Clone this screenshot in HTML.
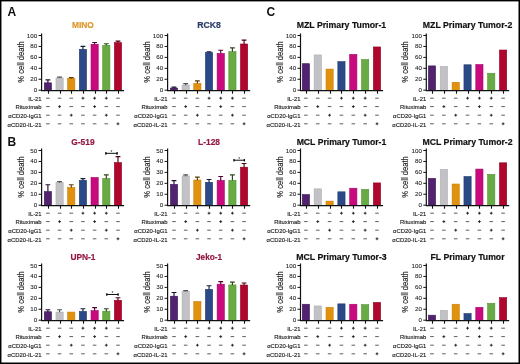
<!DOCTYPE html>
<html><head><meta charset="utf-8"><style>
html,body{margin:0;padding:0;background:#fff;}
body{width:520px;height:364px;overflow:hidden;}
svg{display:block;will-change:transform;font-family:"Liberation Sans", sans-serif;}
</style></head><body>
<svg width="520" height="364" viewBox="0 0 520 364">
<rect x="0" y="0" width="520" height="364" fill="#fff"/>
<text x="7.4" y="16.2" font-size="12" font-weight="bold" fill="#111">A</text>
<text x="7.5" y="146" font-size="12" font-weight="bold" fill="#111">B</text>
<text x="266.4" y="16.1" font-size="12" font-weight="bold" fill="#111">C</text>
<rect x="44.3" y="82.84" width="7.2" height="7.66" fill="#50226f" stroke="#3d1757" stroke-width="0.6"/>
<rect x="55.98" y="77.92" width="7.2" height="12.58" fill="#c2c2c6" stroke="#adadb2" stroke-width="0.6"/>
<rect x="67.66" y="78.47" width="7.2" height="12.03" fill="#e0920f" stroke="#cc8005" stroke-width="0.6"/>
<rect x="79.34" y="49.31" width="7.2" height="41.19" fill="#2b4987" stroke="#203a70" stroke-width="0.6"/>
<rect x="91.02" y="44.28" width="7.2" height="46.22" fill="#c80a7e" stroke="#a50466" stroke-width="0.6"/>
<rect x="102.7" y="45.32" width="7.2" height="45.18" fill="#68aa43" stroke="#559133" stroke-width="0.6"/>
<rect x="114.38" y="42.64" width="7.2" height="47.86" fill="#b0052c" stroke="#8c0322" stroke-width="0.6"/>
<path d="M47.9 83.04V79.81M45.5 79.81H50.3" stroke="#210e2e" stroke-width="1.15" fill="none"/>
<path d="M59.58 78.12V77.07M57.18 77.07H61.98" stroke="#515153" stroke-width="1.15" fill="none"/>
<path d="M71.26 78.67V77.62M68.86 77.62H73.66" stroke="#5e3d06" stroke-width="1.15" fill="none"/>
<path d="M82.94 49.51V46.33M80.54 46.33H85.34" stroke="#121e38" stroke-width="1.15" fill="none"/>
<path d="M94.62 44.48V42.45M92.22 42.45H97.02" stroke="#540434" stroke-width="1.15" fill="none"/>
<path d="M106.3 45.52V43.7M103.9 43.7H108.7" stroke="#2b471c" stroke-width="1.15" fill="none"/>
<path d="M117.98 42.84V41.08M115.58 41.08H120.38" stroke="#490212" stroke-width="1.15" fill="none"/>
<path d="M41.6 33.5V90.6H124.08" stroke="#111" stroke-width="1.2" fill="none"/>
<path d="M38.6 90.2H41.6" stroke="#111" stroke-width="1" fill="none"/>
<text x="37.2" y="89.7" font-size="6.2" text-anchor="end" dominant-baseline="central" fill="#222" stroke="#222" stroke-width="0.08">0</text>
<path d="M38.6 79.26H41.6" stroke="#111" stroke-width="1" fill="none"/>
<text x="37.2" y="78.76" font-size="6.2" text-anchor="end" dominant-baseline="central" fill="#222" stroke="#222" stroke-width="0.08">20</text>
<path d="M38.6 68.32H41.6" stroke="#111" stroke-width="1" fill="none"/>
<text x="37.2" y="67.82" font-size="6.2" text-anchor="end" dominant-baseline="central" fill="#222" stroke="#222" stroke-width="0.08">40</text>
<path d="M38.6 57.38H41.6" stroke="#111" stroke-width="1" fill="none"/>
<text x="37.2" y="56.88" font-size="6.2" text-anchor="end" dominant-baseline="central" fill="#222" stroke="#222" stroke-width="0.08">60</text>
<path d="M38.6 46.44H41.6" stroke="#111" stroke-width="1" fill="none"/>
<text x="37.2" y="45.94" font-size="6.2" text-anchor="end" dominant-baseline="central" fill="#222" stroke="#222" stroke-width="0.08">80</text>
<path d="M38.6 35.5H41.6" stroke="#111" stroke-width="1" fill="none"/>
<text x="37.2" y="35" font-size="6.2" text-anchor="end" dominant-baseline="central" fill="#222" stroke="#222" stroke-width="0.08">100</text>
<path d="M48.5 90.6V93.7" stroke="#111" stroke-width="1.1" fill="none"/>
<path d="M60.5 90.6V93.7" stroke="#111" stroke-width="1.1" fill="none"/>
<path d="M71.5 90.6V93.7" stroke="#111" stroke-width="1.1" fill="none"/>
<path d="M83.5 90.6V93.7" stroke="#111" stroke-width="1.1" fill="none"/>
<path d="M95.5 90.6V93.7" stroke="#111" stroke-width="1.1" fill="none"/>
<path d="M106.5 90.6V93.7" stroke="#111" stroke-width="1.1" fill="none"/>
<path d="M118.5 90.6V93.7" stroke="#111" stroke-width="1.1" fill="none"/>
<text transform="translate(23.6 61.9) rotate(-90)" font-size="9" text-anchor="middle" textLength="41.5" lengthAdjust="spacingAndGlyphs" fill="#222" stroke="#222" stroke-width="0.15">% cell death</text>
<text x="82.94" y="28.4" font-size="9.8" font-weight="bold" text-anchor="middle" textLength="21.9" lengthAdjust="spacingAndGlyphs" fill="#dc962a" stroke="#dc962a" stroke-width="0.2">MINO</text>
<text x="41.6" y="98.4" font-size="6.1" text-anchor="end" dominant-baseline="central" textLength="13.3" lengthAdjust="spacingAndGlyphs" fill="#222" stroke="#222" stroke-width="0.15">IL-21</text>
<path d="M46.1 98.2H49.7" stroke="#333" stroke-width="0.8" fill="none"/>
<path d="M57.78 98.2H61.38" stroke="#333" stroke-width="0.8" fill="none"/>
<path d="M69.46 98.2H73.06" stroke="#333" stroke-width="0.8" fill="none"/>
<path d="M81.54 98.2H84.34M82.94 96.8V99.6" stroke="#1a1a1a" stroke-width="0.9" fill="none"/>
<path d="M93.22 98.2H96.02M94.62 96.8V99.6" stroke="#1a1a1a" stroke-width="0.9" fill="none"/>
<path d="M104.9 98.2H107.7M106.3 96.8V99.6" stroke="#1a1a1a" stroke-width="0.9" fill="none"/>
<path d="M116.18 98.2H119.78" stroke="#333" stroke-width="0.8" fill="none"/>
<text x="41.6" y="106.8" font-size="6.1" text-anchor="end" dominant-baseline="central" textLength="26.2" lengthAdjust="spacingAndGlyphs" fill="#222" stroke="#222" stroke-width="0.15">Rituximab</text>
<path d="M46.1 106.6H49.7" stroke="#333" stroke-width="0.8" fill="none"/>
<path d="M58.18 106.6H60.98M59.58 105.2V108" stroke="#1a1a1a" stroke-width="0.9" fill="none"/>
<path d="M69.46 106.6H73.06" stroke="#333" stroke-width="0.8" fill="none"/>
<path d="M81.14 106.6H84.74" stroke="#333" stroke-width="0.8" fill="none"/>
<path d="M93.22 106.6H96.02M94.62 105.2V108" stroke="#1a1a1a" stroke-width="0.9" fill="none"/>
<path d="M104.5 106.6H108.1" stroke="#333" stroke-width="0.8" fill="none"/>
<path d="M116.18 106.6H119.78" stroke="#333" stroke-width="0.8" fill="none"/>
<text x="41.6" y="115.4" font-size="6.1" text-anchor="end" dominant-baseline="central" textLength="33.3" lengthAdjust="spacingAndGlyphs" fill="#222" stroke="#222" stroke-width="0.15">αCD20-IgG1</text>
<path d="M46.1 115.2H49.7" stroke="#333" stroke-width="0.8" fill="none"/>
<path d="M57.78 115.2H61.38" stroke="#333" stroke-width="0.8" fill="none"/>
<path d="M69.86 115.2H72.66M71.26 113.8V116.6" stroke="#1a1a1a" stroke-width="0.9" fill="none"/>
<path d="M81.14 115.2H84.74" stroke="#333" stroke-width="0.8" fill="none"/>
<path d="M92.82 115.2H96.42" stroke="#333" stroke-width="0.8" fill="none"/>
<path d="M104.9 115.2H107.7M106.3 113.8V116.6" stroke="#1a1a1a" stroke-width="0.9" fill="none"/>
<path d="M116.18 115.2H119.78" stroke="#333" stroke-width="0.8" fill="none"/>
<text x="41.6" y="124" font-size="6.1" text-anchor="end" dominant-baseline="central" textLength="34" lengthAdjust="spacingAndGlyphs" fill="#222" stroke="#222" stroke-width="0.15">αCD20-IL-21</text>
<path d="M46.1 123.8H49.7" stroke="#333" stroke-width="0.8" fill="none"/>
<path d="M57.78 123.8H61.38" stroke="#333" stroke-width="0.8" fill="none"/>
<path d="M69.46 123.8H73.06" stroke="#333" stroke-width="0.8" fill="none"/>
<path d="M81.14 123.8H84.74" stroke="#333" stroke-width="0.8" fill="none"/>
<path d="M92.82 123.8H96.42" stroke="#333" stroke-width="0.8" fill="none"/>
<path d="M104.5 123.8H108.1" stroke="#333" stroke-width="0.8" fill="none"/>
<path d="M116.58 123.8H119.38M117.98 122.4V125.2" stroke="#1a1a1a" stroke-width="0.9" fill="none"/>
<rect x="170.4" y="88.04" width="7.2" height="2.46" fill="#50226f" stroke="#3d1757" stroke-width="0.6"/>
<rect x="182.08" y="85.03" width="7.2" height="5.47" fill="#c2c2c6" stroke="#adadb2" stroke-width="0.6"/>
<rect x="193.76" y="83.39" width="7.2" height="7.11" fill="#e0920f" stroke="#cc8005" stroke-width="0.6"/>
<rect x="205.44" y="52.59" width="7.2" height="37.91" fill="#2b4987" stroke="#203a70" stroke-width="0.6"/>
<rect x="217.12" y="53.41" width="7.2" height="37.09" fill="#c80a7e" stroke="#a50466" stroke-width="0.6"/>
<rect x="228.8" y="51.66" width="7.2" height="38.84" fill="#68aa43" stroke="#559133" stroke-width="0.6"/>
<rect x="240.48" y="44" width="7.2" height="46.5" fill="#b0052c" stroke="#8c0322" stroke-width="0.6"/>
<path d="M174 88.24V87.19M171.6 87.19H176.4" stroke="#210e2e" stroke-width="1.15" fill="none"/>
<path d="M185.68 85.23V83.64M183.28 83.64H188.08" stroke="#515153" stroke-width="1.15" fill="none"/>
<path d="M197.36 83.59V80.9M194.96 80.9H199.76" stroke="#5e3d06" stroke-width="1.15" fill="none"/>
<path d="M209.04 52.79V51.91M206.64 51.91H211.44" stroke="#121e38" stroke-width="1.15" fill="none"/>
<path d="M220.72 53.61V50.27M218.32 50.27H223.12" stroke="#540434" stroke-width="1.15" fill="none"/>
<path d="M232.4 51.86V47.81M230 47.81H234.8" stroke="#2b471c" stroke-width="1.15" fill="none"/>
<path d="M244.08 44.2V40.15M241.68 40.15H246.48" stroke="#490212" stroke-width="1.15" fill="none"/>
<path d="M167.6 33.5V90.6H250.18" stroke="#111" stroke-width="1.2" fill="none"/>
<path d="M164.6 90.2H167.6" stroke="#111" stroke-width="1" fill="none"/>
<text x="163.2" y="89.7" font-size="6.2" text-anchor="end" dominant-baseline="central" fill="#222" stroke="#222" stroke-width="0.08">0</text>
<path d="M164.6 79.26H167.6" stroke="#111" stroke-width="1" fill="none"/>
<text x="163.2" y="78.76" font-size="6.2" text-anchor="end" dominant-baseline="central" fill="#222" stroke="#222" stroke-width="0.08">20</text>
<path d="M164.6 68.32H167.6" stroke="#111" stroke-width="1" fill="none"/>
<text x="163.2" y="67.82" font-size="6.2" text-anchor="end" dominant-baseline="central" fill="#222" stroke="#222" stroke-width="0.08">40</text>
<path d="M164.6 57.38H167.6" stroke="#111" stroke-width="1" fill="none"/>
<text x="163.2" y="56.88" font-size="6.2" text-anchor="end" dominant-baseline="central" fill="#222" stroke="#222" stroke-width="0.08">60</text>
<path d="M164.6 46.44H167.6" stroke="#111" stroke-width="1" fill="none"/>
<text x="163.2" y="45.94" font-size="6.2" text-anchor="end" dominant-baseline="central" fill="#222" stroke="#222" stroke-width="0.08">80</text>
<path d="M164.6 35.5H167.6" stroke="#111" stroke-width="1" fill="none"/>
<text x="163.2" y="35" font-size="6.2" text-anchor="end" dominant-baseline="central" fill="#222" stroke="#222" stroke-width="0.08">100</text>
<path d="M174.5 90.6V93.7" stroke="#111" stroke-width="1.1" fill="none"/>
<path d="M186.5 90.6V93.7" stroke="#111" stroke-width="1.1" fill="none"/>
<path d="M197.5 90.6V93.7" stroke="#111" stroke-width="1.1" fill="none"/>
<path d="M209.5 90.6V93.7" stroke="#111" stroke-width="1.1" fill="none"/>
<path d="M221.5 90.6V93.7" stroke="#111" stroke-width="1.1" fill="none"/>
<path d="M232.5 90.6V93.7" stroke="#111" stroke-width="1.1" fill="none"/>
<path d="M244.5 90.6V93.7" stroke="#111" stroke-width="1.1" fill="none"/>
<text transform="translate(149.6 61.9) rotate(-90)" font-size="9" text-anchor="middle" textLength="41.5" lengthAdjust="spacingAndGlyphs" fill="#222" stroke="#222" stroke-width="0.15">% cell death</text>
<text x="209.04" y="28.4" font-size="9.8" font-weight="bold" text-anchor="middle" textLength="23.7" lengthAdjust="spacingAndGlyphs" fill="#2b3d68" stroke="#2b3d68" stroke-width="0.2">RCK8</text>
<text x="167.6" y="98.4" font-size="6.1" text-anchor="end" dominant-baseline="central" textLength="13.3" lengthAdjust="spacingAndGlyphs" fill="#222" stroke="#222" stroke-width="0.15">IL-21</text>
<path d="M172.2 98.2H175.8" stroke="#333" stroke-width="0.8" fill="none"/>
<path d="M183.88 98.2H187.48" stroke="#333" stroke-width="0.8" fill="none"/>
<path d="M195.56 98.2H199.16" stroke="#333" stroke-width="0.8" fill="none"/>
<path d="M207.64 98.2H210.44M209.04 96.8V99.6" stroke="#1a1a1a" stroke-width="0.9" fill="none"/>
<path d="M219.32 98.2H222.12M220.72 96.8V99.6" stroke="#1a1a1a" stroke-width="0.9" fill="none"/>
<path d="M231 98.2H233.8M232.4 96.8V99.6" stroke="#1a1a1a" stroke-width="0.9" fill="none"/>
<path d="M242.28 98.2H245.88" stroke="#333" stroke-width="0.8" fill="none"/>
<text x="167.6" y="106.8" font-size="6.1" text-anchor="end" dominant-baseline="central" textLength="26.2" lengthAdjust="spacingAndGlyphs" fill="#222" stroke="#222" stroke-width="0.15">Rituximab</text>
<path d="M172.2 106.6H175.8" stroke="#333" stroke-width="0.8" fill="none"/>
<path d="M184.28 106.6H187.08M185.68 105.2V108" stroke="#1a1a1a" stroke-width="0.9" fill="none"/>
<path d="M195.56 106.6H199.16" stroke="#333" stroke-width="0.8" fill="none"/>
<path d="M207.24 106.6H210.84" stroke="#333" stroke-width="0.8" fill="none"/>
<path d="M219.32 106.6H222.12M220.72 105.2V108" stroke="#1a1a1a" stroke-width="0.9" fill="none"/>
<path d="M230.6 106.6H234.2" stroke="#333" stroke-width="0.8" fill="none"/>
<path d="M242.28 106.6H245.88" stroke="#333" stroke-width="0.8" fill="none"/>
<text x="167.6" y="115.4" font-size="6.1" text-anchor="end" dominant-baseline="central" textLength="33.3" lengthAdjust="spacingAndGlyphs" fill="#222" stroke="#222" stroke-width="0.15">αCD20-IgG1</text>
<path d="M172.2 115.2H175.8" stroke="#333" stroke-width="0.8" fill="none"/>
<path d="M183.88 115.2H187.48" stroke="#333" stroke-width="0.8" fill="none"/>
<path d="M195.96 115.2H198.76M197.36 113.8V116.6" stroke="#1a1a1a" stroke-width="0.9" fill="none"/>
<path d="M207.24 115.2H210.84" stroke="#333" stroke-width="0.8" fill="none"/>
<path d="M218.92 115.2H222.52" stroke="#333" stroke-width="0.8" fill="none"/>
<path d="M231 115.2H233.8M232.4 113.8V116.6" stroke="#1a1a1a" stroke-width="0.9" fill="none"/>
<path d="M242.28 115.2H245.88" stroke="#333" stroke-width="0.8" fill="none"/>
<text x="167.6" y="124" font-size="6.1" text-anchor="end" dominant-baseline="central" textLength="34" lengthAdjust="spacingAndGlyphs" fill="#222" stroke="#222" stroke-width="0.15">αCD20-IL-21</text>
<path d="M172.2 123.8H175.8" stroke="#333" stroke-width="0.8" fill="none"/>
<path d="M183.88 123.8H187.48" stroke="#333" stroke-width="0.8" fill="none"/>
<path d="M195.56 123.8H199.16" stroke="#333" stroke-width="0.8" fill="none"/>
<path d="M207.24 123.8H210.84" stroke="#333" stroke-width="0.8" fill="none"/>
<path d="M218.92 123.8H222.52" stroke="#333" stroke-width="0.8" fill="none"/>
<path d="M230.6 123.8H234.2" stroke="#333" stroke-width="0.8" fill="none"/>
<path d="M242.68 123.8H245.48M244.08 122.4V125.2" stroke="#1a1a1a" stroke-width="0.9" fill="none"/>
<rect x="44.3" y="191.61" width="7.2" height="13.89" fill="#50226f" stroke="#3d1757" stroke-width="0.6"/>
<rect x="55.98" y="182.53" width="7.2" height="22.97" fill="#c2c2c6" stroke="#adadb2" stroke-width="0.6"/>
<rect x="67.66" y="187.56" width="7.2" height="17.94" fill="#e0920f" stroke="#cc8005" stroke-width="0.6"/>
<rect x="79.34" y="180.34" width="7.2" height="25.16" fill="#2b4987" stroke="#203a70" stroke-width="0.6"/>
<rect x="91.02" y="177.49" width="7.2" height="28.01" fill="#c80a7e" stroke="#a50466" stroke-width="0.6"/>
<rect x="102.7" y="178.48" width="7.2" height="27.02" fill="#68aa43" stroke="#559133" stroke-width="0.6"/>
<rect x="114.38" y="162.62" width="7.2" height="42.88" fill="#b0052c" stroke="#8c0322" stroke-width="0.6"/>
<path d="M47.9 191.81V184.74M45.5 184.74H50.3" stroke="#210e2e" stroke-width="1.15" fill="none"/>
<path d="M59.58 182.73V181.68M57.18 181.68H61.98" stroke="#515153" stroke-width="1.15" fill="none"/>
<path d="M71.26 187.76V184.74M68.86 184.74H73.66" stroke="#5e3d06" stroke-width="1.15" fill="none"/>
<path d="M82.94 180.54V178.62M80.54 178.62H85.34" stroke="#121e38" stroke-width="1.15" fill="none"/>
<path d="M106.3 178.68V174.9M103.9 174.9H108.7" stroke="#2b471c" stroke-width="1.15" fill="none"/>
<path d="M117.98 162.82V156.63M115.58 156.63H120.38" stroke="#490212" stroke-width="1.15" fill="none"/>
<path d="M41.6 148.5V205.6H124.08" stroke="#111" stroke-width="1.2" fill="none"/>
<path d="M38.6 205.2H41.6" stroke="#111" stroke-width="1" fill="none"/>
<text x="37.2" y="204.7" font-size="6.2" text-anchor="end" dominant-baseline="central" fill="#222" stroke="#222" stroke-width="0.08">0</text>
<path d="M38.6 194.26H41.6" stroke="#111" stroke-width="1" fill="none"/>
<text x="37.2" y="193.76" font-size="6.2" text-anchor="end" dominant-baseline="central" fill="#222" stroke="#222" stroke-width="0.08">10</text>
<path d="M38.6 183.32H41.6" stroke="#111" stroke-width="1" fill="none"/>
<text x="37.2" y="182.82" font-size="6.2" text-anchor="end" dominant-baseline="central" fill="#222" stroke="#222" stroke-width="0.08">20</text>
<path d="M38.6 172.38H41.6" stroke="#111" stroke-width="1" fill="none"/>
<text x="37.2" y="171.88" font-size="6.2" text-anchor="end" dominant-baseline="central" fill="#222" stroke="#222" stroke-width="0.08">30</text>
<path d="M38.6 161.44H41.6" stroke="#111" stroke-width="1" fill="none"/>
<text x="37.2" y="160.94" font-size="6.2" text-anchor="end" dominant-baseline="central" fill="#222" stroke="#222" stroke-width="0.08">40</text>
<path d="M38.6 150.5H41.6" stroke="#111" stroke-width="1" fill="none"/>
<text x="37.2" y="150" font-size="6.2" text-anchor="end" dominant-baseline="central" fill="#222" stroke="#222" stroke-width="0.08">50</text>
<path d="M48.5 205.6V208.7" stroke="#111" stroke-width="1.1" fill="none"/>
<path d="M60.5 205.6V208.7" stroke="#111" stroke-width="1.1" fill="none"/>
<path d="M71.5 205.6V208.7" stroke="#111" stroke-width="1.1" fill="none"/>
<path d="M83.5 205.6V208.7" stroke="#111" stroke-width="1.1" fill="none"/>
<path d="M95.5 205.6V208.7" stroke="#111" stroke-width="1.1" fill="none"/>
<path d="M106.5 205.6V208.7" stroke="#111" stroke-width="1.1" fill="none"/>
<path d="M118.5 205.6V208.7" stroke="#111" stroke-width="1.1" fill="none"/>
<text transform="translate(23.6 176.9) rotate(-90)" font-size="9" text-anchor="middle" textLength="41.5" lengthAdjust="spacingAndGlyphs" fill="#222" stroke="#222" stroke-width="0.15">% cell death</text>
<text x="82.94" y="145.2" font-size="9.8" font-weight="bold" text-anchor="middle" textLength="23.4" lengthAdjust="spacingAndGlyphs" fill="#941840" stroke="#941840" stroke-width="0.2">G-519</text>
<text x="41.6" y="213.4" font-size="6.1" text-anchor="end" dominant-baseline="central" textLength="13.3" lengthAdjust="spacingAndGlyphs" fill="#222" stroke="#222" stroke-width="0.15">IL-21</text>
<path d="M46.1 213.2H49.7" stroke="#333" stroke-width="0.8" fill="none"/>
<path d="M57.78 213.2H61.38" stroke="#333" stroke-width="0.8" fill="none"/>
<path d="M69.46 213.2H73.06" stroke="#333" stroke-width="0.8" fill="none"/>
<path d="M81.54 213.2H84.34M82.94 211.8V214.6" stroke="#1a1a1a" stroke-width="0.9" fill="none"/>
<path d="M93.22 213.2H96.02M94.62 211.8V214.6" stroke="#1a1a1a" stroke-width="0.9" fill="none"/>
<path d="M104.9 213.2H107.7M106.3 211.8V214.6" stroke="#1a1a1a" stroke-width="0.9" fill="none"/>
<path d="M116.18 213.2H119.78" stroke="#333" stroke-width="0.8" fill="none"/>
<text x="41.6" y="221.8" font-size="6.1" text-anchor="end" dominant-baseline="central" textLength="26.2" lengthAdjust="spacingAndGlyphs" fill="#222" stroke="#222" stroke-width="0.15">Rituximab</text>
<path d="M46.1 221.6H49.7" stroke="#333" stroke-width="0.8" fill="none"/>
<path d="M58.18 221.6H60.98M59.58 220.2V223" stroke="#1a1a1a" stroke-width="0.9" fill="none"/>
<path d="M69.46 221.6H73.06" stroke="#333" stroke-width="0.8" fill="none"/>
<path d="M81.14 221.6H84.74" stroke="#333" stroke-width="0.8" fill="none"/>
<path d="M93.22 221.6H96.02M94.62 220.2V223" stroke="#1a1a1a" stroke-width="0.9" fill="none"/>
<path d="M104.5 221.6H108.1" stroke="#333" stroke-width="0.8" fill="none"/>
<path d="M116.18 221.6H119.78" stroke="#333" stroke-width="0.8" fill="none"/>
<text x="41.6" y="230.4" font-size="6.1" text-anchor="end" dominant-baseline="central" textLength="33.3" lengthAdjust="spacingAndGlyphs" fill="#222" stroke="#222" stroke-width="0.15">αCD20-IgG1</text>
<path d="M46.1 230.2H49.7" stroke="#333" stroke-width="0.8" fill="none"/>
<path d="M57.78 230.2H61.38" stroke="#333" stroke-width="0.8" fill="none"/>
<path d="M69.86 230.2H72.66M71.26 228.8V231.6" stroke="#1a1a1a" stroke-width="0.9" fill="none"/>
<path d="M81.14 230.2H84.74" stroke="#333" stroke-width="0.8" fill="none"/>
<path d="M92.82 230.2H96.42" stroke="#333" stroke-width="0.8" fill="none"/>
<path d="M104.9 230.2H107.7M106.3 228.8V231.6" stroke="#1a1a1a" stroke-width="0.9" fill="none"/>
<path d="M116.18 230.2H119.78" stroke="#333" stroke-width="0.8" fill="none"/>
<text x="41.6" y="239" font-size="6.1" text-anchor="end" dominant-baseline="central" textLength="34" lengthAdjust="spacingAndGlyphs" fill="#222" stroke="#222" stroke-width="0.15">αCD20-IL-21</text>
<path d="M46.1 238.8H49.7" stroke="#333" stroke-width="0.8" fill="none"/>
<path d="M57.78 238.8H61.38" stroke="#333" stroke-width="0.8" fill="none"/>
<path d="M69.46 238.8H73.06" stroke="#333" stroke-width="0.8" fill="none"/>
<path d="M81.14 238.8H84.74" stroke="#333" stroke-width="0.8" fill="none"/>
<path d="M92.82 238.8H96.42" stroke="#333" stroke-width="0.8" fill="none"/>
<path d="M104.5 238.8H108.1" stroke="#333" stroke-width="0.8" fill="none"/>
<path d="M116.58 238.8H119.38M117.98 237.4V240.2" stroke="#1a1a1a" stroke-width="0.9" fill="none"/>
<path d="M105.4 153.33H117.58" stroke="#111" stroke-width="1" fill="none"/>
<path d="M105.9 152.03V154.63M117.08 152.03V154.63" stroke="#111" stroke-width="1.3" fill="none"/>
<text x="111.49" y="154.13" font-size="5" text-anchor="middle" fill="#222">*</text>
<rect x="170.4" y="184.39" width="7.2" height="21.11" fill="#50226f" stroke="#3d1757" stroke-width="0.6"/>
<rect x="182.08" y="175.96" width="7.2" height="29.54" fill="#c2c2c6" stroke="#adadb2" stroke-width="0.6"/>
<rect x="193.76" y="180.01" width="7.2" height="25.49" fill="#e0920f" stroke="#cc8005" stroke-width="0.6"/>
<rect x="205.44" y="182.31" width="7.2" height="23.19" fill="#2b4987" stroke="#203a70" stroke-width="0.6"/>
<rect x="217.12" y="180.45" width="7.2" height="25.05" fill="#c80a7e" stroke="#a50466" stroke-width="0.6"/>
<rect x="228.8" y="180.34" width="7.2" height="25.16" fill="#68aa43" stroke="#559133" stroke-width="0.6"/>
<rect x="240.48" y="167.21" width="7.2" height="38.29" fill="#b0052c" stroke="#8c0322" stroke-width="0.6"/>
<path d="M174 184.59V180.69M171.6 180.69H176.4" stroke="#210e2e" stroke-width="1.15" fill="none"/>
<path d="M185.68 176.16V174.9M183.28 174.9H188.08" stroke="#515153" stroke-width="1.15" fill="none"/>
<path d="M197.36 180.21V177.19M194.96 177.19H199.76" stroke="#5e3d06" stroke-width="1.15" fill="none"/>
<path d="M209.04 182.51V179.49M206.64 179.49H211.44" stroke="#121e38" stroke-width="1.15" fill="none"/>
<path d="M220.72 180.65V176.54M218.32 176.54H223.12" stroke="#540434" stroke-width="1.15" fill="none"/>
<path d="M232.4 180.54V174.9M230 174.9H234.8" stroke="#2b471c" stroke-width="1.15" fill="none"/>
<path d="M244.08 167.41V163.52M241.68 163.52H246.48" stroke="#490212" stroke-width="1.15" fill="none"/>
<path d="M167.6 148.5V205.6H250.18" stroke="#111" stroke-width="1.2" fill="none"/>
<path d="M164.6 205.2H167.6" stroke="#111" stroke-width="1" fill="none"/>
<text x="163.2" y="204.7" font-size="6.2" text-anchor="end" dominant-baseline="central" fill="#222" stroke="#222" stroke-width="0.08">0</text>
<path d="M164.6 194.26H167.6" stroke="#111" stroke-width="1" fill="none"/>
<text x="163.2" y="193.76" font-size="6.2" text-anchor="end" dominant-baseline="central" fill="#222" stroke="#222" stroke-width="0.08">10</text>
<path d="M164.6 183.32H167.6" stroke="#111" stroke-width="1" fill="none"/>
<text x="163.2" y="182.82" font-size="6.2" text-anchor="end" dominant-baseline="central" fill="#222" stroke="#222" stroke-width="0.08">20</text>
<path d="M164.6 172.38H167.6" stroke="#111" stroke-width="1" fill="none"/>
<text x="163.2" y="171.88" font-size="6.2" text-anchor="end" dominant-baseline="central" fill="#222" stroke="#222" stroke-width="0.08">30</text>
<path d="M164.6 161.44H167.6" stroke="#111" stroke-width="1" fill="none"/>
<text x="163.2" y="160.94" font-size="6.2" text-anchor="end" dominant-baseline="central" fill="#222" stroke="#222" stroke-width="0.08">40</text>
<path d="M164.6 150.5H167.6" stroke="#111" stroke-width="1" fill="none"/>
<text x="163.2" y="150" font-size="6.2" text-anchor="end" dominant-baseline="central" fill="#222" stroke="#222" stroke-width="0.08">50</text>
<path d="M174.5 205.6V208.7" stroke="#111" stroke-width="1.1" fill="none"/>
<path d="M186.5 205.6V208.7" stroke="#111" stroke-width="1.1" fill="none"/>
<path d="M197.5 205.6V208.7" stroke="#111" stroke-width="1.1" fill="none"/>
<path d="M209.5 205.6V208.7" stroke="#111" stroke-width="1.1" fill="none"/>
<path d="M221.5 205.6V208.7" stroke="#111" stroke-width="1.1" fill="none"/>
<path d="M232.5 205.6V208.7" stroke="#111" stroke-width="1.1" fill="none"/>
<path d="M244.5 205.6V208.7" stroke="#111" stroke-width="1.1" fill="none"/>
<text transform="translate(149.6 176.9) rotate(-90)" font-size="9" text-anchor="middle" textLength="41.5" lengthAdjust="spacingAndGlyphs" fill="#222" stroke="#222" stroke-width="0.15">% cell death</text>
<text x="209.04" y="145.2" font-size="9.8" font-weight="bold" text-anchor="middle" textLength="21.9" lengthAdjust="spacingAndGlyphs" fill="#941840" stroke="#941840" stroke-width="0.2">L-128</text>
<text x="167.6" y="213.4" font-size="6.1" text-anchor="end" dominant-baseline="central" textLength="13.3" lengthAdjust="spacingAndGlyphs" fill="#222" stroke="#222" stroke-width="0.15">IL-21</text>
<path d="M172.2 213.2H175.8" stroke="#333" stroke-width="0.8" fill="none"/>
<path d="M183.88 213.2H187.48" stroke="#333" stroke-width="0.8" fill="none"/>
<path d="M195.56 213.2H199.16" stroke="#333" stroke-width="0.8" fill="none"/>
<path d="M207.64 213.2H210.44M209.04 211.8V214.6" stroke="#1a1a1a" stroke-width="0.9" fill="none"/>
<path d="M219.32 213.2H222.12M220.72 211.8V214.6" stroke="#1a1a1a" stroke-width="0.9" fill="none"/>
<path d="M231 213.2H233.8M232.4 211.8V214.6" stroke="#1a1a1a" stroke-width="0.9" fill="none"/>
<path d="M242.28 213.2H245.88" stroke="#333" stroke-width="0.8" fill="none"/>
<text x="167.6" y="221.8" font-size="6.1" text-anchor="end" dominant-baseline="central" textLength="26.2" lengthAdjust="spacingAndGlyphs" fill="#222" stroke="#222" stroke-width="0.15">Rituximab</text>
<path d="M172.2 221.6H175.8" stroke="#333" stroke-width="0.8" fill="none"/>
<path d="M184.28 221.6H187.08M185.68 220.2V223" stroke="#1a1a1a" stroke-width="0.9" fill="none"/>
<path d="M195.56 221.6H199.16" stroke="#333" stroke-width="0.8" fill="none"/>
<path d="M207.24 221.6H210.84" stroke="#333" stroke-width="0.8" fill="none"/>
<path d="M219.32 221.6H222.12M220.72 220.2V223" stroke="#1a1a1a" stroke-width="0.9" fill="none"/>
<path d="M230.6 221.6H234.2" stroke="#333" stroke-width="0.8" fill="none"/>
<path d="M242.28 221.6H245.88" stroke="#333" stroke-width="0.8" fill="none"/>
<text x="167.6" y="230.4" font-size="6.1" text-anchor="end" dominant-baseline="central" textLength="33.3" lengthAdjust="spacingAndGlyphs" fill="#222" stroke="#222" stroke-width="0.15">αCD20-IgG1</text>
<path d="M172.2 230.2H175.8" stroke="#333" stroke-width="0.8" fill="none"/>
<path d="M183.88 230.2H187.48" stroke="#333" stroke-width="0.8" fill="none"/>
<path d="M195.96 230.2H198.76M197.36 228.8V231.6" stroke="#1a1a1a" stroke-width="0.9" fill="none"/>
<path d="M207.24 230.2H210.84" stroke="#333" stroke-width="0.8" fill="none"/>
<path d="M218.92 230.2H222.52" stroke="#333" stroke-width="0.8" fill="none"/>
<path d="M231 230.2H233.8M232.4 228.8V231.6" stroke="#1a1a1a" stroke-width="0.9" fill="none"/>
<path d="M242.28 230.2H245.88" stroke="#333" stroke-width="0.8" fill="none"/>
<text x="167.6" y="239" font-size="6.1" text-anchor="end" dominant-baseline="central" textLength="34" lengthAdjust="spacingAndGlyphs" fill="#222" stroke="#222" stroke-width="0.15">αCD20-IL-21</text>
<path d="M172.2 238.8H175.8" stroke="#333" stroke-width="0.8" fill="none"/>
<path d="M183.88 238.8H187.48" stroke="#333" stroke-width="0.8" fill="none"/>
<path d="M195.56 238.8H199.16" stroke="#333" stroke-width="0.8" fill="none"/>
<path d="M207.24 238.8H210.84" stroke="#333" stroke-width="0.8" fill="none"/>
<path d="M218.92 238.8H222.52" stroke="#333" stroke-width="0.8" fill="none"/>
<path d="M230.6 238.8H234.2" stroke="#333" stroke-width="0.8" fill="none"/>
<path d="M242.68 238.8H245.48M244.08 237.4V240.2" stroke="#1a1a1a" stroke-width="0.9" fill="none"/>
<path d="M233.5 160.22H244.88" stroke="#111" stroke-width="1" fill="none"/>
<path d="M234 158.92V161.52M244.38 158.92V161.52" stroke="#111" stroke-width="1.3" fill="none"/>
<text x="239.19" y="161.02" font-size="5" text-anchor="middle" fill="#222">*</text>
<rect x="44.3" y="311.75" width="7.2" height="8.75" fill="#50226f" stroke="#3d1757" stroke-width="0.6"/>
<rect x="55.98" y="312.08" width="7.2" height="8.42" fill="#c2c2c6" stroke="#adadb2" stroke-width="0.6"/>
<rect x="67.66" y="312.08" width="7.2" height="8.42" fill="#e0920f" stroke="#cc8005" stroke-width="0.6"/>
<rect x="79.34" y="311.42" width="7.2" height="9.08" fill="#2b4987" stroke="#203a70" stroke-width="0.6"/>
<rect x="91.02" y="310.65" width="7.2" height="9.85" fill="#c80a7e" stroke="#a50466" stroke-width="0.6"/>
<rect x="102.7" y="311.2" width="7.2" height="9.3" fill="#68aa43" stroke="#559133" stroke-width="0.6"/>
<rect x="114.38" y="300.26" width="7.2" height="20.24" fill="#b0052c" stroke="#8c0322" stroke-width="0.6"/>
<path d="M47.9 311.95V309.7M45.5 309.7H50.3" stroke="#210e2e" stroke-width="1.15" fill="none"/>
<path d="M59.58 312.28V309.7M57.18 309.7H61.98" stroke="#515153" stroke-width="1.15" fill="none"/>
<path d="M82.94 311.62V308.71M80.54 308.71H85.34" stroke="#121e38" stroke-width="1.15" fill="none"/>
<path d="M94.62 310.85V307.62M92.22 307.62H97.02" stroke="#540434" stroke-width="1.15" fill="none"/>
<path d="M106.3 311.4V308.71M103.9 308.71H108.7" stroke="#2b471c" stroke-width="1.15" fill="none"/>
<path d="M117.98 300.46V297.77M115.58 297.77H120.38" stroke="#490212" stroke-width="1.15" fill="none"/>
<path d="M41.6 263.5V320.6H124.08" stroke="#111" stroke-width="1.2" fill="none"/>
<path d="M38.6 320.2H41.6" stroke="#111" stroke-width="1" fill="none"/>
<text x="37.2" y="319.7" font-size="6.2" text-anchor="end" dominant-baseline="central" fill="#222" stroke="#222" stroke-width="0.08">0</text>
<path d="M38.6 309.26H41.6" stroke="#111" stroke-width="1" fill="none"/>
<text x="37.2" y="308.76" font-size="6.2" text-anchor="end" dominant-baseline="central" fill="#222" stroke="#222" stroke-width="0.08">10</text>
<path d="M38.6 298.32H41.6" stroke="#111" stroke-width="1" fill="none"/>
<text x="37.2" y="297.82" font-size="6.2" text-anchor="end" dominant-baseline="central" fill="#222" stroke="#222" stroke-width="0.08">20</text>
<path d="M38.6 287.38H41.6" stroke="#111" stroke-width="1" fill="none"/>
<text x="37.2" y="286.88" font-size="6.2" text-anchor="end" dominant-baseline="central" fill="#222" stroke="#222" stroke-width="0.08">30</text>
<path d="M38.6 276.44H41.6" stroke="#111" stroke-width="1" fill="none"/>
<text x="37.2" y="275.94" font-size="6.2" text-anchor="end" dominant-baseline="central" fill="#222" stroke="#222" stroke-width="0.08">40</text>
<path d="M38.6 265.5H41.6" stroke="#111" stroke-width="1" fill="none"/>
<text x="37.2" y="265" font-size="6.2" text-anchor="end" dominant-baseline="central" fill="#222" stroke="#222" stroke-width="0.08">50</text>
<path d="M48.5 320.6V323.7" stroke="#111" stroke-width="1.1" fill="none"/>
<path d="M60.5 320.6V323.7" stroke="#111" stroke-width="1.1" fill="none"/>
<path d="M71.5 320.6V323.7" stroke="#111" stroke-width="1.1" fill="none"/>
<path d="M83.5 320.6V323.7" stroke="#111" stroke-width="1.1" fill="none"/>
<path d="M95.5 320.6V323.7" stroke="#111" stroke-width="1.1" fill="none"/>
<path d="M106.5 320.6V323.7" stroke="#111" stroke-width="1.1" fill="none"/>
<path d="M118.5 320.6V323.7" stroke="#111" stroke-width="1.1" fill="none"/>
<text transform="translate(23.6 291.9) rotate(-90)" font-size="9" text-anchor="middle" textLength="41.5" lengthAdjust="spacingAndGlyphs" fill="#222" stroke="#222" stroke-width="0.15">% cell death</text>
<text x="82.94" y="260.4" font-size="9.8" font-weight="bold" text-anchor="middle" textLength="25" lengthAdjust="spacingAndGlyphs" fill="#941840" stroke="#941840" stroke-width="0.2">UPN-1</text>
<text x="41.6" y="328.4" font-size="6.1" text-anchor="end" dominant-baseline="central" textLength="13.3" lengthAdjust="spacingAndGlyphs" fill="#222" stroke="#222" stroke-width="0.15">IL-21</text>
<path d="M46.1 328.2H49.7" stroke="#333" stroke-width="0.8" fill="none"/>
<path d="M57.78 328.2H61.38" stroke="#333" stroke-width="0.8" fill="none"/>
<path d="M69.46 328.2H73.06" stroke="#333" stroke-width="0.8" fill="none"/>
<path d="M81.54 328.2H84.34M82.94 326.8V329.6" stroke="#1a1a1a" stroke-width="0.9" fill="none"/>
<path d="M93.22 328.2H96.02M94.62 326.8V329.6" stroke="#1a1a1a" stroke-width="0.9" fill="none"/>
<path d="M104.9 328.2H107.7M106.3 326.8V329.6" stroke="#1a1a1a" stroke-width="0.9" fill="none"/>
<path d="M116.18 328.2H119.78" stroke="#333" stroke-width="0.8" fill="none"/>
<text x="41.6" y="336.8" font-size="6.1" text-anchor="end" dominant-baseline="central" textLength="26.2" lengthAdjust="spacingAndGlyphs" fill="#222" stroke="#222" stroke-width="0.15">Rituximab</text>
<path d="M46.1 336.6H49.7" stroke="#333" stroke-width="0.8" fill="none"/>
<path d="M58.18 336.6H60.98M59.58 335.2V338" stroke="#1a1a1a" stroke-width="0.9" fill="none"/>
<path d="M69.46 336.6H73.06" stroke="#333" stroke-width="0.8" fill="none"/>
<path d="M81.14 336.6H84.74" stroke="#333" stroke-width="0.8" fill="none"/>
<path d="M93.22 336.6H96.02M94.62 335.2V338" stroke="#1a1a1a" stroke-width="0.9" fill="none"/>
<path d="M104.5 336.6H108.1" stroke="#333" stroke-width="0.8" fill="none"/>
<path d="M116.18 336.6H119.78" stroke="#333" stroke-width="0.8" fill="none"/>
<text x="41.6" y="345.4" font-size="6.1" text-anchor="end" dominant-baseline="central" textLength="33.3" lengthAdjust="spacingAndGlyphs" fill="#222" stroke="#222" stroke-width="0.15">αCD20-IgG1</text>
<path d="M46.1 345.2H49.7" stroke="#333" stroke-width="0.8" fill="none"/>
<path d="M57.78 345.2H61.38" stroke="#333" stroke-width="0.8" fill="none"/>
<path d="M69.86 345.2H72.66M71.26 343.8V346.6" stroke="#1a1a1a" stroke-width="0.9" fill="none"/>
<path d="M81.14 345.2H84.74" stroke="#333" stroke-width="0.8" fill="none"/>
<path d="M92.82 345.2H96.42" stroke="#333" stroke-width="0.8" fill="none"/>
<path d="M104.9 345.2H107.7M106.3 343.8V346.6" stroke="#1a1a1a" stroke-width="0.9" fill="none"/>
<path d="M116.18 345.2H119.78" stroke="#333" stroke-width="0.8" fill="none"/>
<text x="41.6" y="354" font-size="6.1" text-anchor="end" dominant-baseline="central" textLength="34" lengthAdjust="spacingAndGlyphs" fill="#222" stroke="#222" stroke-width="0.15">αCD20-IL-21</text>
<path d="M46.1 353.8H49.7" stroke="#333" stroke-width="0.8" fill="none"/>
<path d="M57.78 353.8H61.38" stroke="#333" stroke-width="0.8" fill="none"/>
<path d="M69.46 353.8H73.06" stroke="#333" stroke-width="0.8" fill="none"/>
<path d="M81.14 353.8H84.74" stroke="#333" stroke-width="0.8" fill="none"/>
<path d="M92.82 353.8H96.42" stroke="#333" stroke-width="0.8" fill="none"/>
<path d="M104.5 353.8H108.1" stroke="#333" stroke-width="0.8" fill="none"/>
<path d="M116.58 353.8H119.38M117.98 352.4V355.2" stroke="#1a1a1a" stroke-width="0.9" fill="none"/>
<path d="M106.3 294.47H118.58" stroke="#111" stroke-width="1" fill="none"/>
<path d="M106.8 293.17V295.77M118.08 293.17V295.77" stroke="#111" stroke-width="1.3" fill="none"/>
<text x="112.44" y="295.27" font-size="5" text-anchor="middle" fill="#222">*</text>
<rect x="170.4" y="296.21" width="7.2" height="24.29" fill="#50226f" stroke="#3d1757" stroke-width="0.6"/>
<rect x="182.08" y="291.4" width="7.2" height="29.1" fill="#c2c2c6" stroke="#adadb2" stroke-width="0.6"/>
<rect x="193.76" y="301.46" width="7.2" height="19.04" fill="#e0920f" stroke="#cc8005" stroke-width="0.6"/>
<rect x="205.44" y="289.32" width="7.2" height="31.18" fill="#2b4987" stroke="#203a70" stroke-width="0.6"/>
<rect x="217.12" y="284.18" width="7.2" height="36.32" fill="#c80a7e" stroke="#a50466" stroke-width="0.6"/>
<rect x="228.8" y="284.94" width="7.2" height="35.55" fill="#68aa43" stroke="#559133" stroke-width="0.6"/>
<rect x="240.48" y="285.05" width="7.2" height="35.45" fill="#b0052c" stroke="#8c0322" stroke-width="0.6"/>
<path d="M174 296.41V292.52M171.6 292.52H176.4" stroke="#210e2e" stroke-width="1.15" fill="none"/>
<path d="M185.68 291.6V290.66M183.28 290.66H188.08" stroke="#515153" stroke-width="1.15" fill="none"/>
<path d="M209.04 289.52V285.74M206.64 285.74H211.44" stroke="#121e38" stroke-width="1.15" fill="none"/>
<path d="M220.72 284.38V281.58M218.32 281.58H223.12" stroke="#540434" stroke-width="1.15" fill="none"/>
<path d="M232.4 285.14V282.13M230 282.13H234.8" stroke="#2b471c" stroke-width="1.15" fill="none"/>
<path d="M244.08 285.25V283M241.68 283H246.48" stroke="#490212" stroke-width="1.15" fill="none"/>
<path d="M167.6 263.5V320.6H250.18" stroke="#111" stroke-width="1.2" fill="none"/>
<path d="M164.6 320.2H167.6" stroke="#111" stroke-width="1" fill="none"/>
<text x="163.2" y="319.7" font-size="6.2" text-anchor="end" dominant-baseline="central" fill="#222" stroke="#222" stroke-width="0.08">0</text>
<path d="M164.6 309.26H167.6" stroke="#111" stroke-width="1" fill="none"/>
<text x="163.2" y="308.76" font-size="6.2" text-anchor="end" dominant-baseline="central" fill="#222" stroke="#222" stroke-width="0.08">10</text>
<path d="M164.6 298.32H167.6" stroke="#111" stroke-width="1" fill="none"/>
<text x="163.2" y="297.82" font-size="6.2" text-anchor="end" dominant-baseline="central" fill="#222" stroke="#222" stroke-width="0.08">20</text>
<path d="M164.6 287.38H167.6" stroke="#111" stroke-width="1" fill="none"/>
<text x="163.2" y="286.88" font-size="6.2" text-anchor="end" dominant-baseline="central" fill="#222" stroke="#222" stroke-width="0.08">30</text>
<path d="M164.6 276.44H167.6" stroke="#111" stroke-width="1" fill="none"/>
<text x="163.2" y="275.94" font-size="6.2" text-anchor="end" dominant-baseline="central" fill="#222" stroke="#222" stroke-width="0.08">40</text>
<path d="M164.6 265.5H167.6" stroke="#111" stroke-width="1" fill="none"/>
<text x="163.2" y="265" font-size="6.2" text-anchor="end" dominant-baseline="central" fill="#222" stroke="#222" stroke-width="0.08">50</text>
<path d="M174.5 320.6V323.7" stroke="#111" stroke-width="1.1" fill="none"/>
<path d="M186.5 320.6V323.7" stroke="#111" stroke-width="1.1" fill="none"/>
<path d="M197.5 320.6V323.7" stroke="#111" stroke-width="1.1" fill="none"/>
<path d="M209.5 320.6V323.7" stroke="#111" stroke-width="1.1" fill="none"/>
<path d="M221.5 320.6V323.7" stroke="#111" stroke-width="1.1" fill="none"/>
<path d="M232.5 320.6V323.7" stroke="#111" stroke-width="1.1" fill="none"/>
<path d="M244.5 320.6V323.7" stroke="#111" stroke-width="1.1" fill="none"/>
<text transform="translate(149.6 291.9) rotate(-90)" font-size="9" text-anchor="middle" textLength="41.5" lengthAdjust="spacingAndGlyphs" fill="#222" stroke="#222" stroke-width="0.15">% cell death</text>
<text x="209.04" y="260.4" font-size="9.8" font-weight="bold" text-anchor="middle" textLength="26.2" lengthAdjust="spacingAndGlyphs" fill="#941840" stroke="#941840" stroke-width="0.2">Jeko-1</text>
<text x="167.6" y="328.4" font-size="6.1" text-anchor="end" dominant-baseline="central" textLength="13.3" lengthAdjust="spacingAndGlyphs" fill="#222" stroke="#222" stroke-width="0.15">IL-21</text>
<path d="M172.2 328.2H175.8" stroke="#333" stroke-width="0.8" fill="none"/>
<path d="M183.88 328.2H187.48" stroke="#333" stroke-width="0.8" fill="none"/>
<path d="M195.56 328.2H199.16" stroke="#333" stroke-width="0.8" fill="none"/>
<path d="M207.64 328.2H210.44M209.04 326.8V329.6" stroke="#1a1a1a" stroke-width="0.9" fill="none"/>
<path d="M219.32 328.2H222.12M220.72 326.8V329.6" stroke="#1a1a1a" stroke-width="0.9" fill="none"/>
<path d="M231 328.2H233.8M232.4 326.8V329.6" stroke="#1a1a1a" stroke-width="0.9" fill="none"/>
<path d="M242.28 328.2H245.88" stroke="#333" stroke-width="0.8" fill="none"/>
<text x="167.6" y="336.8" font-size="6.1" text-anchor="end" dominant-baseline="central" textLength="26.2" lengthAdjust="spacingAndGlyphs" fill="#222" stroke="#222" stroke-width="0.15">Rituximab</text>
<path d="M172.2 336.6H175.8" stroke="#333" stroke-width="0.8" fill="none"/>
<path d="M184.28 336.6H187.08M185.68 335.2V338" stroke="#1a1a1a" stroke-width="0.9" fill="none"/>
<path d="M195.56 336.6H199.16" stroke="#333" stroke-width="0.8" fill="none"/>
<path d="M207.24 336.6H210.84" stroke="#333" stroke-width="0.8" fill="none"/>
<path d="M219.32 336.6H222.12M220.72 335.2V338" stroke="#1a1a1a" stroke-width="0.9" fill="none"/>
<path d="M230.6 336.6H234.2" stroke="#333" stroke-width="0.8" fill="none"/>
<path d="M242.28 336.6H245.88" stroke="#333" stroke-width="0.8" fill="none"/>
<text x="167.6" y="345.4" font-size="6.1" text-anchor="end" dominant-baseline="central" textLength="33.3" lengthAdjust="spacingAndGlyphs" fill="#222" stroke="#222" stroke-width="0.15">αCD20-IgG1</text>
<path d="M172.2 345.2H175.8" stroke="#333" stroke-width="0.8" fill="none"/>
<path d="M183.88 345.2H187.48" stroke="#333" stroke-width="0.8" fill="none"/>
<path d="M195.96 345.2H198.76M197.36 343.8V346.6" stroke="#1a1a1a" stroke-width="0.9" fill="none"/>
<path d="M207.24 345.2H210.84" stroke="#333" stroke-width="0.8" fill="none"/>
<path d="M218.92 345.2H222.52" stroke="#333" stroke-width="0.8" fill="none"/>
<path d="M231 345.2H233.8M232.4 343.8V346.6" stroke="#1a1a1a" stroke-width="0.9" fill="none"/>
<path d="M242.28 345.2H245.88" stroke="#333" stroke-width="0.8" fill="none"/>
<text x="167.6" y="354" font-size="6.1" text-anchor="end" dominant-baseline="central" textLength="34" lengthAdjust="spacingAndGlyphs" fill="#222" stroke="#222" stroke-width="0.15">αCD20-IL-21</text>
<path d="M172.2 353.8H175.8" stroke="#333" stroke-width="0.8" fill="none"/>
<path d="M183.88 353.8H187.48" stroke="#333" stroke-width="0.8" fill="none"/>
<path d="M195.56 353.8H199.16" stroke="#333" stroke-width="0.8" fill="none"/>
<path d="M207.24 353.8H210.84" stroke="#333" stroke-width="0.8" fill="none"/>
<path d="M218.92 353.8H222.52" stroke="#333" stroke-width="0.8" fill="none"/>
<path d="M230.6 353.8H234.2" stroke="#333" stroke-width="0.8" fill="none"/>
<path d="M242.68 353.8H245.48M244.08 352.4V355.2" stroke="#1a1a1a" stroke-width="0.9" fill="none"/>
<rect x="302.3" y="63.7" width="7.2" height="26.8" fill="#50226f" stroke="#3d1757" stroke-width="0.6"/>
<rect x="314.15" y="54.95" width="7.2" height="35.55" fill="#c2c2c6" stroke="#adadb2" stroke-width="0.6"/>
<rect x="326" y="69.06" width="7.2" height="21.44" fill="#e0920f" stroke="#cc8005" stroke-width="0.6"/>
<rect x="337.85" y="61.62" width="7.2" height="28.88" fill="#2b4987" stroke="#203a70" stroke-width="0.6"/>
<rect x="349.7" y="54.4" width="7.2" height="36.1" fill="#c80a7e" stroke="#a50466" stroke-width="0.6"/>
<rect x="361.55" y="59.54" width="7.2" height="30.96" fill="#68aa43" stroke="#559133" stroke-width="0.6"/>
<rect x="373.4" y="46.96" width="7.2" height="43.54" fill="#b0052c" stroke="#8c0322" stroke-width="0.6"/>
<path d="M300.5 33.5V90.6H383.1" stroke="#111" stroke-width="1.2" fill="none"/>
<path d="M297.5 90.2H300.5" stroke="#111" stroke-width="1" fill="none"/>
<text x="296.1" y="89.7" font-size="6.2" text-anchor="end" dominant-baseline="central" fill="#222" stroke="#222" stroke-width="0.08">0</text>
<path d="M297.5 79.26H300.5" stroke="#111" stroke-width="1" fill="none"/>
<text x="296.1" y="78.76" font-size="6.2" text-anchor="end" dominant-baseline="central" fill="#222" stroke="#222" stroke-width="0.08">20</text>
<path d="M297.5 68.32H300.5" stroke="#111" stroke-width="1" fill="none"/>
<text x="296.1" y="67.82" font-size="6.2" text-anchor="end" dominant-baseline="central" fill="#222" stroke="#222" stroke-width="0.08">40</text>
<path d="M297.5 57.38H300.5" stroke="#111" stroke-width="1" fill="none"/>
<text x="296.1" y="56.88" font-size="6.2" text-anchor="end" dominant-baseline="central" fill="#222" stroke="#222" stroke-width="0.08">60</text>
<path d="M297.5 46.44H300.5" stroke="#111" stroke-width="1" fill="none"/>
<text x="296.1" y="45.94" font-size="6.2" text-anchor="end" dominant-baseline="central" fill="#222" stroke="#222" stroke-width="0.08">80</text>
<path d="M297.5 35.5H300.5" stroke="#111" stroke-width="1" fill="none"/>
<text x="296.1" y="35" font-size="6.2" text-anchor="end" dominant-baseline="central" fill="#222" stroke="#222" stroke-width="0.08">100</text>
<path d="M306.5 90.6V93.7" stroke="#111" stroke-width="1.1" fill="none"/>
<path d="M318.5 90.6V93.7" stroke="#111" stroke-width="1.1" fill="none"/>
<path d="M330.5 90.6V93.7" stroke="#111" stroke-width="1.1" fill="none"/>
<path d="M341.5 90.6V93.7" stroke="#111" stroke-width="1.1" fill="none"/>
<path d="M353.5 90.6V93.7" stroke="#111" stroke-width="1.1" fill="none"/>
<path d="M365.5 90.6V93.7" stroke="#111" stroke-width="1.1" fill="none"/>
<path d="M377.5 90.6V93.7" stroke="#111" stroke-width="1.1" fill="none"/>
<text transform="translate(282.5 61.9) rotate(-90)" font-size="9" text-anchor="middle" textLength="41.5" lengthAdjust="spacingAndGlyphs" fill="#222" stroke="#222" stroke-width="0.15">% cell death</text>
<text x="341.45" y="28.4" font-size="9.8" font-weight="bold" text-anchor="middle" textLength="89.6" lengthAdjust="spacingAndGlyphs" fill="#111" stroke="#111" stroke-width="0.2">MZL Primary Tumor-1</text>
<text x="300.5" y="98.4" font-size="6.1" text-anchor="end" dominant-baseline="central" textLength="13.3" lengthAdjust="spacingAndGlyphs" fill="#222" stroke="#222" stroke-width="0.15">IL-21</text>
<path d="M304.1 98.2H307.7" stroke="#333" stroke-width="0.8" fill="none"/>
<path d="M315.95 98.2H319.55" stroke="#333" stroke-width="0.8" fill="none"/>
<path d="M327.8 98.2H331.4" stroke="#333" stroke-width="0.8" fill="none"/>
<path d="M340.05 98.2H342.85M341.45 96.8V99.6" stroke="#1a1a1a" stroke-width="0.9" fill="none"/>
<path d="M351.9 98.2H354.7M353.3 96.8V99.6" stroke="#1a1a1a" stroke-width="0.9" fill="none"/>
<path d="M363.75 98.2H366.55M365.15 96.8V99.6" stroke="#1a1a1a" stroke-width="0.9" fill="none"/>
<path d="M375.2 98.2H378.8" stroke="#333" stroke-width="0.8" fill="none"/>
<text x="300.5" y="106.8" font-size="6.1" text-anchor="end" dominant-baseline="central" textLength="26.2" lengthAdjust="spacingAndGlyphs" fill="#222" stroke="#222" stroke-width="0.15">Rituximab</text>
<path d="M304.1 106.6H307.7" stroke="#333" stroke-width="0.8" fill="none"/>
<path d="M316.35 106.6H319.15M317.75 105.2V108" stroke="#1a1a1a" stroke-width="0.9" fill="none"/>
<path d="M327.8 106.6H331.4" stroke="#333" stroke-width="0.8" fill="none"/>
<path d="M339.65 106.6H343.25" stroke="#333" stroke-width="0.8" fill="none"/>
<path d="M351.9 106.6H354.7M353.3 105.2V108" stroke="#1a1a1a" stroke-width="0.9" fill="none"/>
<path d="M363.35 106.6H366.95" stroke="#333" stroke-width="0.8" fill="none"/>
<path d="M375.2 106.6H378.8" stroke="#333" stroke-width="0.8" fill="none"/>
<text x="300.5" y="115.4" font-size="6.1" text-anchor="end" dominant-baseline="central" textLength="33.3" lengthAdjust="spacingAndGlyphs" fill="#222" stroke="#222" stroke-width="0.15">αCD20-IgG1</text>
<path d="M304.1 115.2H307.7" stroke="#333" stroke-width="0.8" fill="none"/>
<path d="M315.95 115.2H319.55" stroke="#333" stroke-width="0.8" fill="none"/>
<path d="M328.2 115.2H331M329.6 113.8V116.6" stroke="#1a1a1a" stroke-width="0.9" fill="none"/>
<path d="M339.65 115.2H343.25" stroke="#333" stroke-width="0.8" fill="none"/>
<path d="M351.5 115.2H355.1" stroke="#333" stroke-width="0.8" fill="none"/>
<path d="M363.75 115.2H366.55M365.15 113.8V116.6" stroke="#1a1a1a" stroke-width="0.9" fill="none"/>
<path d="M375.2 115.2H378.8" stroke="#333" stroke-width="0.8" fill="none"/>
<text x="300.5" y="124" font-size="6.1" text-anchor="end" dominant-baseline="central" textLength="34" lengthAdjust="spacingAndGlyphs" fill="#222" stroke="#222" stroke-width="0.15">αCD20-IL-21</text>
<path d="M304.1 123.8H307.7" stroke="#333" stroke-width="0.8" fill="none"/>
<path d="M315.95 123.8H319.55" stroke="#333" stroke-width="0.8" fill="none"/>
<path d="M327.8 123.8H331.4" stroke="#333" stroke-width="0.8" fill="none"/>
<path d="M339.65 123.8H343.25" stroke="#333" stroke-width="0.8" fill="none"/>
<path d="M351.5 123.8H355.1" stroke="#333" stroke-width="0.8" fill="none"/>
<path d="M363.35 123.8H366.95" stroke="#333" stroke-width="0.8" fill="none"/>
<path d="M375.6 123.8H378.4M377 122.4V125.2" stroke="#1a1a1a" stroke-width="0.9" fill="none"/>
<rect x="428.4" y="65.89" width="7.2" height="24.62" fill="#50226f" stroke="#3d1757" stroke-width="0.6"/>
<rect x="440.25" y="66.43" width="7.2" height="24.07" fill="#c2c2c6" stroke="#adadb2" stroke-width="0.6"/>
<rect x="452.1" y="82.3" width="7.2" height="8.21" fill="#e0920f" stroke="#cc8005" stroke-width="0.6"/>
<rect x="463.95" y="64.79" width="7.2" height="25.71" fill="#2b4987" stroke="#203a70" stroke-width="0.6"/>
<rect x="475.8" y="64.52" width="7.2" height="25.98" fill="#c80a7e" stroke="#a50466" stroke-width="0.6"/>
<rect x="487.65" y="73.27" width="7.2" height="17.23" fill="#68aa43" stroke="#559133" stroke-width="0.6"/>
<rect x="499.5" y="50.02" width="7.2" height="40.48" fill="#b0052c" stroke="#8c0322" stroke-width="0.6"/>
<path d="M426.3 33.5V90.6H509.2" stroke="#111" stroke-width="1.2" fill="none"/>
<path d="M423.3 90.2H426.3" stroke="#111" stroke-width="1" fill="none"/>
<text x="421.9" y="89.7" font-size="6.2" text-anchor="end" dominant-baseline="central" fill="#222" stroke="#222" stroke-width="0.08">0</text>
<path d="M423.3 79.26H426.3" stroke="#111" stroke-width="1" fill="none"/>
<text x="421.9" y="78.76" font-size="6.2" text-anchor="end" dominant-baseline="central" fill="#222" stroke="#222" stroke-width="0.08">20</text>
<path d="M423.3 68.32H426.3" stroke="#111" stroke-width="1" fill="none"/>
<text x="421.9" y="67.82" font-size="6.2" text-anchor="end" dominant-baseline="central" fill="#222" stroke="#222" stroke-width="0.08">40</text>
<path d="M423.3 57.38H426.3" stroke="#111" stroke-width="1" fill="none"/>
<text x="421.9" y="56.88" font-size="6.2" text-anchor="end" dominant-baseline="central" fill="#222" stroke="#222" stroke-width="0.08">60</text>
<path d="M423.3 46.44H426.3" stroke="#111" stroke-width="1" fill="none"/>
<text x="421.9" y="45.94" font-size="6.2" text-anchor="end" dominant-baseline="central" fill="#222" stroke="#222" stroke-width="0.08">80</text>
<path d="M423.3 35.5H426.3" stroke="#111" stroke-width="1" fill="none"/>
<text x="421.9" y="35" font-size="6.2" text-anchor="end" dominant-baseline="central" fill="#222" stroke="#222" stroke-width="0.08">100</text>
<path d="M432.5 90.6V93.7" stroke="#111" stroke-width="1.1" fill="none"/>
<path d="M444.5 90.6V93.7" stroke="#111" stroke-width="1.1" fill="none"/>
<path d="M456.5 90.6V93.7" stroke="#111" stroke-width="1.1" fill="none"/>
<path d="M468.5 90.6V93.7" stroke="#111" stroke-width="1.1" fill="none"/>
<path d="M479.5 90.6V93.7" stroke="#111" stroke-width="1.1" fill="none"/>
<path d="M491.5 90.6V93.7" stroke="#111" stroke-width="1.1" fill="none"/>
<path d="M503.5 90.6V93.7" stroke="#111" stroke-width="1.1" fill="none"/>
<text transform="translate(408.3 61.9) rotate(-90)" font-size="9" text-anchor="middle" textLength="41.5" lengthAdjust="spacingAndGlyphs" fill="#222" stroke="#222" stroke-width="0.15">% cell death</text>
<text x="467.55" y="28.4" font-size="9.8" font-weight="bold" text-anchor="middle" textLength="89.6" lengthAdjust="spacingAndGlyphs" fill="#111" stroke="#111" stroke-width="0.2">MZL Primary Tumor-2</text>
<text x="426.3" y="98.4" font-size="6.1" text-anchor="end" dominant-baseline="central" textLength="13.3" lengthAdjust="spacingAndGlyphs" fill="#222" stroke="#222" stroke-width="0.15">IL-21</text>
<path d="M430.2 98.2H433.8" stroke="#333" stroke-width="0.8" fill="none"/>
<path d="M442.05 98.2H445.65" stroke="#333" stroke-width="0.8" fill="none"/>
<path d="M453.9 98.2H457.5" stroke="#333" stroke-width="0.8" fill="none"/>
<path d="M466.15 98.2H468.95M467.55 96.8V99.6" stroke="#1a1a1a" stroke-width="0.9" fill="none"/>
<path d="M478 98.2H480.8M479.4 96.8V99.6" stroke="#1a1a1a" stroke-width="0.9" fill="none"/>
<path d="M489.85 98.2H492.65M491.25 96.8V99.6" stroke="#1a1a1a" stroke-width="0.9" fill="none"/>
<path d="M501.3 98.2H504.9" stroke="#333" stroke-width="0.8" fill="none"/>
<text x="426.3" y="106.8" font-size="6.1" text-anchor="end" dominant-baseline="central" textLength="26.2" lengthAdjust="spacingAndGlyphs" fill="#222" stroke="#222" stroke-width="0.15">Rituximab</text>
<path d="M430.2 106.6H433.8" stroke="#333" stroke-width="0.8" fill="none"/>
<path d="M442.45 106.6H445.25M443.85 105.2V108" stroke="#1a1a1a" stroke-width="0.9" fill="none"/>
<path d="M453.9 106.6H457.5" stroke="#333" stroke-width="0.8" fill="none"/>
<path d="M465.75 106.6H469.35" stroke="#333" stroke-width="0.8" fill="none"/>
<path d="M478 106.6H480.8M479.4 105.2V108" stroke="#1a1a1a" stroke-width="0.9" fill="none"/>
<path d="M489.45 106.6H493.05" stroke="#333" stroke-width="0.8" fill="none"/>
<path d="M501.3 106.6H504.9" stroke="#333" stroke-width="0.8" fill="none"/>
<text x="426.3" y="115.4" font-size="6.1" text-anchor="end" dominant-baseline="central" textLength="33.3" lengthAdjust="spacingAndGlyphs" fill="#222" stroke="#222" stroke-width="0.15">αCD20-IgG1</text>
<path d="M430.2 115.2H433.8" stroke="#333" stroke-width="0.8" fill="none"/>
<path d="M442.05 115.2H445.65" stroke="#333" stroke-width="0.8" fill="none"/>
<path d="M454.3 115.2H457.1M455.7 113.8V116.6" stroke="#1a1a1a" stroke-width="0.9" fill="none"/>
<path d="M465.75 115.2H469.35" stroke="#333" stroke-width="0.8" fill="none"/>
<path d="M477.6 115.2H481.2" stroke="#333" stroke-width="0.8" fill="none"/>
<path d="M489.85 115.2H492.65M491.25 113.8V116.6" stroke="#1a1a1a" stroke-width="0.9" fill="none"/>
<path d="M501.3 115.2H504.9" stroke="#333" stroke-width="0.8" fill="none"/>
<text x="426.3" y="124" font-size="6.1" text-anchor="end" dominant-baseline="central" textLength="34" lengthAdjust="spacingAndGlyphs" fill="#222" stroke="#222" stroke-width="0.15">αCD20-IL-21</text>
<path d="M430.2 123.8H433.8" stroke="#333" stroke-width="0.8" fill="none"/>
<path d="M442.05 123.8H445.65" stroke="#333" stroke-width="0.8" fill="none"/>
<path d="M453.9 123.8H457.5" stroke="#333" stroke-width="0.8" fill="none"/>
<path d="M465.75 123.8H469.35" stroke="#333" stroke-width="0.8" fill="none"/>
<path d="M477.6 123.8H481.2" stroke="#333" stroke-width="0.8" fill="none"/>
<path d="M489.45 123.8H493.05" stroke="#333" stroke-width="0.8" fill="none"/>
<path d="M501.7 123.8H504.5M503.1 122.4V125.2" stroke="#1a1a1a" stroke-width="0.9" fill="none"/>
<rect x="302.3" y="194.56" width="7.2" height="10.94" fill="#50226f" stroke="#3d1757" stroke-width="0.6"/>
<rect x="314.15" y="188.87" width="7.2" height="16.63" fill="#c2c2c6" stroke="#adadb2" stroke-width="0.6"/>
<rect x="326" y="201.12" width="7.2" height="4.38" fill="#e0920f" stroke="#cc8005" stroke-width="0.6"/>
<rect x="337.85" y="191.82" width="7.2" height="13.68" fill="#2b4987" stroke="#203a70" stroke-width="0.6"/>
<rect x="349.7" y="188.21" width="7.2" height="17.29" fill="#c80a7e" stroke="#a50466" stroke-width="0.6"/>
<rect x="361.55" y="189.42" width="7.2" height="16.08" fill="#68aa43" stroke="#559133" stroke-width="0.6"/>
<rect x="373.4" y="182.91" width="7.2" height="22.59" fill="#b0052c" stroke="#8c0322" stroke-width="0.6"/>
<path d="M300.5 148.5V205.6H383.1" stroke="#111" stroke-width="1.2" fill="none"/>
<path d="M297.5 205.2H300.5" stroke="#111" stroke-width="1" fill="none"/>
<text x="296.1" y="204.7" font-size="6.2" text-anchor="end" dominant-baseline="central" fill="#222" stroke="#222" stroke-width="0.08">0</text>
<path d="M297.5 194.26H300.5" stroke="#111" stroke-width="1" fill="none"/>
<text x="296.1" y="193.76" font-size="6.2" text-anchor="end" dominant-baseline="central" fill="#222" stroke="#222" stroke-width="0.08">20</text>
<path d="M297.5 183.32H300.5" stroke="#111" stroke-width="1" fill="none"/>
<text x="296.1" y="182.82" font-size="6.2" text-anchor="end" dominant-baseline="central" fill="#222" stroke="#222" stroke-width="0.08">40</text>
<path d="M297.5 172.38H300.5" stroke="#111" stroke-width="1" fill="none"/>
<text x="296.1" y="171.88" font-size="6.2" text-anchor="end" dominant-baseline="central" fill="#222" stroke="#222" stroke-width="0.08">60</text>
<path d="M297.5 161.44H300.5" stroke="#111" stroke-width="1" fill="none"/>
<text x="296.1" y="160.94" font-size="6.2" text-anchor="end" dominant-baseline="central" fill="#222" stroke="#222" stroke-width="0.08">80</text>
<path d="M297.5 150.5H300.5" stroke="#111" stroke-width="1" fill="none"/>
<text x="296.1" y="150" font-size="6.2" text-anchor="end" dominant-baseline="central" fill="#222" stroke="#222" stroke-width="0.08">100</text>
<path d="M306.5 205.6V208.7" stroke="#111" stroke-width="1.1" fill="none"/>
<path d="M318.5 205.6V208.7" stroke="#111" stroke-width="1.1" fill="none"/>
<path d="M330.5 205.6V208.7" stroke="#111" stroke-width="1.1" fill="none"/>
<path d="M341.5 205.6V208.7" stroke="#111" stroke-width="1.1" fill="none"/>
<path d="M353.5 205.6V208.7" stroke="#111" stroke-width="1.1" fill="none"/>
<path d="M365.5 205.6V208.7" stroke="#111" stroke-width="1.1" fill="none"/>
<path d="M377.5 205.6V208.7" stroke="#111" stroke-width="1.1" fill="none"/>
<text transform="translate(282.5 176.9) rotate(-90)" font-size="9" text-anchor="middle" textLength="41.5" lengthAdjust="spacingAndGlyphs" fill="#222" stroke="#222" stroke-width="0.15">% cell death</text>
<text x="341.45" y="145.2" font-size="9.8" font-weight="bold" text-anchor="middle" textLength="89.6" lengthAdjust="spacingAndGlyphs" fill="#111" stroke="#111" stroke-width="0.2">MCL Primary Tumor-1</text>
<text x="300.5" y="213.4" font-size="6.1" text-anchor="end" dominant-baseline="central" textLength="13.3" lengthAdjust="spacingAndGlyphs" fill="#222" stroke="#222" stroke-width="0.15">IL-21</text>
<path d="M304.1 213.2H307.7" stroke="#333" stroke-width="0.8" fill="none"/>
<path d="M315.95 213.2H319.55" stroke="#333" stroke-width="0.8" fill="none"/>
<path d="M327.8 213.2H331.4" stroke="#333" stroke-width="0.8" fill="none"/>
<path d="M340.05 213.2H342.85M341.45 211.8V214.6" stroke="#1a1a1a" stroke-width="0.9" fill="none"/>
<path d="M351.9 213.2H354.7M353.3 211.8V214.6" stroke="#1a1a1a" stroke-width="0.9" fill="none"/>
<path d="M363.75 213.2H366.55M365.15 211.8V214.6" stroke="#1a1a1a" stroke-width="0.9" fill="none"/>
<path d="M375.2 213.2H378.8" stroke="#333" stroke-width="0.8" fill="none"/>
<text x="300.5" y="221.8" font-size="6.1" text-anchor="end" dominant-baseline="central" textLength="26.2" lengthAdjust="spacingAndGlyphs" fill="#222" stroke="#222" stroke-width="0.15">Rituximab</text>
<path d="M304.1 221.6H307.7" stroke="#333" stroke-width="0.8" fill="none"/>
<path d="M316.35 221.6H319.15M317.75 220.2V223" stroke="#1a1a1a" stroke-width="0.9" fill="none"/>
<path d="M327.8 221.6H331.4" stroke="#333" stroke-width="0.8" fill="none"/>
<path d="M339.65 221.6H343.25" stroke="#333" stroke-width="0.8" fill="none"/>
<path d="M351.9 221.6H354.7M353.3 220.2V223" stroke="#1a1a1a" stroke-width="0.9" fill="none"/>
<path d="M363.35 221.6H366.95" stroke="#333" stroke-width="0.8" fill="none"/>
<path d="M375.2 221.6H378.8" stroke="#333" stroke-width="0.8" fill="none"/>
<text x="300.5" y="230.4" font-size="6.1" text-anchor="end" dominant-baseline="central" textLength="33.3" lengthAdjust="spacingAndGlyphs" fill="#222" stroke="#222" stroke-width="0.15">αCD20-IgG1</text>
<path d="M304.1 230.2H307.7" stroke="#333" stroke-width="0.8" fill="none"/>
<path d="M315.95 230.2H319.55" stroke="#333" stroke-width="0.8" fill="none"/>
<path d="M328.2 230.2H331M329.6 228.8V231.6" stroke="#1a1a1a" stroke-width="0.9" fill="none"/>
<path d="M339.65 230.2H343.25" stroke="#333" stroke-width="0.8" fill="none"/>
<path d="M351.5 230.2H355.1" stroke="#333" stroke-width="0.8" fill="none"/>
<path d="M363.75 230.2H366.55M365.15 228.8V231.6" stroke="#1a1a1a" stroke-width="0.9" fill="none"/>
<path d="M375.2 230.2H378.8" stroke="#333" stroke-width="0.8" fill="none"/>
<text x="300.5" y="239" font-size="6.1" text-anchor="end" dominant-baseline="central" textLength="34" lengthAdjust="spacingAndGlyphs" fill="#222" stroke="#222" stroke-width="0.15">αCD20-IL-21</text>
<path d="M304.1 238.8H307.7" stroke="#333" stroke-width="0.8" fill="none"/>
<path d="M315.95 238.8H319.55" stroke="#333" stroke-width="0.8" fill="none"/>
<path d="M327.8 238.8H331.4" stroke="#333" stroke-width="0.8" fill="none"/>
<path d="M339.65 238.8H343.25" stroke="#333" stroke-width="0.8" fill="none"/>
<path d="M351.5 238.8H355.1" stroke="#333" stroke-width="0.8" fill="none"/>
<path d="M363.35 238.8H366.95" stroke="#333" stroke-width="0.8" fill="none"/>
<path d="M375.6 238.8H378.4M377 237.4V240.2" stroke="#1a1a1a" stroke-width="0.9" fill="none"/>
<rect x="428.4" y="178.37" width="7.2" height="27.13" fill="#50226f" stroke="#3d1757" stroke-width="0.6"/>
<rect x="440.25" y="169.4" width="7.2" height="36.1" fill="#c2c2c6" stroke="#adadb2" stroke-width="0.6"/>
<rect x="452.1" y="184" width="7.2" height="21.5" fill="#e0920f" stroke="#cc8005" stroke-width="0.6"/>
<rect x="463.95" y="176.51" width="7.2" height="28.99" fill="#2b4987" stroke="#203a70" stroke-width="0.6"/>
<rect x="475.8" y="169.07" width="7.2" height="36.43" fill="#c80a7e" stroke="#a50466" stroke-width="0.6"/>
<rect x="487.65" y="174.32" width="7.2" height="31.18" fill="#68aa43" stroke="#559133" stroke-width="0.6"/>
<rect x="499.5" y="162.83" width="7.2" height="42.67" fill="#b0052c" stroke="#8c0322" stroke-width="0.6"/>
<path d="M426.3 148.5V205.6H509.2" stroke="#111" stroke-width="1.2" fill="none"/>
<path d="M423.3 205.2H426.3" stroke="#111" stroke-width="1" fill="none"/>
<text x="421.9" y="204.7" font-size="6.2" text-anchor="end" dominant-baseline="central" fill="#222" stroke="#222" stroke-width="0.08">0</text>
<path d="M423.3 194.26H426.3" stroke="#111" stroke-width="1" fill="none"/>
<text x="421.9" y="193.76" font-size="6.2" text-anchor="end" dominant-baseline="central" fill="#222" stroke="#222" stroke-width="0.08">20</text>
<path d="M423.3 183.32H426.3" stroke="#111" stroke-width="1" fill="none"/>
<text x="421.9" y="182.82" font-size="6.2" text-anchor="end" dominant-baseline="central" fill="#222" stroke="#222" stroke-width="0.08">40</text>
<path d="M423.3 172.38H426.3" stroke="#111" stroke-width="1" fill="none"/>
<text x="421.9" y="171.88" font-size="6.2" text-anchor="end" dominant-baseline="central" fill="#222" stroke="#222" stroke-width="0.08">60</text>
<path d="M423.3 161.44H426.3" stroke="#111" stroke-width="1" fill="none"/>
<text x="421.9" y="160.94" font-size="6.2" text-anchor="end" dominant-baseline="central" fill="#222" stroke="#222" stroke-width="0.08">80</text>
<path d="M423.3 150.5H426.3" stroke="#111" stroke-width="1" fill="none"/>
<text x="421.9" y="150" font-size="6.2" text-anchor="end" dominant-baseline="central" fill="#222" stroke="#222" stroke-width="0.08">100</text>
<path d="M432.5 205.6V208.7" stroke="#111" stroke-width="1.1" fill="none"/>
<path d="M444.5 205.6V208.7" stroke="#111" stroke-width="1.1" fill="none"/>
<path d="M456.5 205.6V208.7" stroke="#111" stroke-width="1.1" fill="none"/>
<path d="M468.5 205.6V208.7" stroke="#111" stroke-width="1.1" fill="none"/>
<path d="M479.5 205.6V208.7" stroke="#111" stroke-width="1.1" fill="none"/>
<path d="M491.5 205.6V208.7" stroke="#111" stroke-width="1.1" fill="none"/>
<path d="M503.5 205.6V208.7" stroke="#111" stroke-width="1.1" fill="none"/>
<text transform="translate(408.3 176.9) rotate(-90)" font-size="9" text-anchor="middle" textLength="41.5" lengthAdjust="spacingAndGlyphs" fill="#222" stroke="#222" stroke-width="0.15">% cell death</text>
<text x="467.55" y="145.2" font-size="9.8" font-weight="bold" text-anchor="middle" textLength="90.1" lengthAdjust="spacingAndGlyphs" fill="#111" stroke="#111" stroke-width="0.2">MCL Primary Tumor-2</text>
<text x="426.3" y="213.4" font-size="6.1" text-anchor="end" dominant-baseline="central" textLength="13.3" lengthAdjust="spacingAndGlyphs" fill="#222" stroke="#222" stroke-width="0.15">IL-21</text>
<path d="M430.2 213.2H433.8" stroke="#333" stroke-width="0.8" fill="none"/>
<path d="M442.05 213.2H445.65" stroke="#333" stroke-width="0.8" fill="none"/>
<path d="M453.9 213.2H457.5" stroke="#333" stroke-width="0.8" fill="none"/>
<path d="M466.15 213.2H468.95M467.55 211.8V214.6" stroke="#1a1a1a" stroke-width="0.9" fill="none"/>
<path d="M478 213.2H480.8M479.4 211.8V214.6" stroke="#1a1a1a" stroke-width="0.9" fill="none"/>
<path d="M489.85 213.2H492.65M491.25 211.8V214.6" stroke="#1a1a1a" stroke-width="0.9" fill="none"/>
<path d="M501.3 213.2H504.9" stroke="#333" stroke-width="0.8" fill="none"/>
<text x="426.3" y="221.8" font-size="6.1" text-anchor="end" dominant-baseline="central" textLength="26.2" lengthAdjust="spacingAndGlyphs" fill="#222" stroke="#222" stroke-width="0.15">Rituximab</text>
<path d="M430.2 221.6H433.8" stroke="#333" stroke-width="0.8" fill="none"/>
<path d="M442.45 221.6H445.25M443.85 220.2V223" stroke="#1a1a1a" stroke-width="0.9" fill="none"/>
<path d="M453.9 221.6H457.5" stroke="#333" stroke-width="0.8" fill="none"/>
<path d="M465.75 221.6H469.35" stroke="#333" stroke-width="0.8" fill="none"/>
<path d="M478 221.6H480.8M479.4 220.2V223" stroke="#1a1a1a" stroke-width="0.9" fill="none"/>
<path d="M489.45 221.6H493.05" stroke="#333" stroke-width="0.8" fill="none"/>
<path d="M501.3 221.6H504.9" stroke="#333" stroke-width="0.8" fill="none"/>
<text x="426.3" y="230.4" font-size="6.1" text-anchor="end" dominant-baseline="central" textLength="33.3" lengthAdjust="spacingAndGlyphs" fill="#222" stroke="#222" stroke-width="0.15">αCD20-IgG1</text>
<path d="M430.2 230.2H433.8" stroke="#333" stroke-width="0.8" fill="none"/>
<path d="M442.05 230.2H445.65" stroke="#333" stroke-width="0.8" fill="none"/>
<path d="M454.3 230.2H457.1M455.7 228.8V231.6" stroke="#1a1a1a" stroke-width="0.9" fill="none"/>
<path d="M465.75 230.2H469.35" stroke="#333" stroke-width="0.8" fill="none"/>
<path d="M477.6 230.2H481.2" stroke="#333" stroke-width="0.8" fill="none"/>
<path d="M489.85 230.2H492.65M491.25 228.8V231.6" stroke="#1a1a1a" stroke-width="0.9" fill="none"/>
<path d="M501.3 230.2H504.9" stroke="#333" stroke-width="0.8" fill="none"/>
<text x="426.3" y="239" font-size="6.1" text-anchor="end" dominant-baseline="central" textLength="34" lengthAdjust="spacingAndGlyphs" fill="#222" stroke="#222" stroke-width="0.15">αCD20-IL-21</text>
<path d="M430.2 238.8H433.8" stroke="#333" stroke-width="0.8" fill="none"/>
<path d="M442.05 238.8H445.65" stroke="#333" stroke-width="0.8" fill="none"/>
<path d="M453.9 238.8H457.5" stroke="#333" stroke-width="0.8" fill="none"/>
<path d="M465.75 238.8H469.35" stroke="#333" stroke-width="0.8" fill="none"/>
<path d="M477.6 238.8H481.2" stroke="#333" stroke-width="0.8" fill="none"/>
<path d="M489.45 238.8H493.05" stroke="#333" stroke-width="0.8" fill="none"/>
<path d="M501.7 238.8H504.5M503.1 237.4V240.2" stroke="#1a1a1a" stroke-width="0.9" fill="none"/>
<rect x="302.3" y="304.25" width="7.2" height="16.25" fill="#50226f" stroke="#3d1757" stroke-width="0.6"/>
<rect x="314.15" y="305.95" width="7.2" height="14.55" fill="#c2c2c6" stroke="#adadb2" stroke-width="0.6"/>
<rect x="326" y="307.37" width="7.2" height="13.13" fill="#e0920f" stroke="#cc8005" stroke-width="0.6"/>
<rect x="337.85" y="303.87" width="7.2" height="16.63" fill="#2b4987" stroke="#203a70" stroke-width="0.6"/>
<rect x="349.7" y="304.25" width="7.2" height="16.25" fill="#c80a7e" stroke="#a50466" stroke-width="0.6"/>
<rect x="361.55" y="304.64" width="7.2" height="15.86" fill="#68aa43" stroke="#559133" stroke-width="0.6"/>
<rect x="373.4" y="302.45" width="7.2" height="18.05" fill="#b0052c" stroke="#8c0322" stroke-width="0.6"/>
<path d="M300.5 263.5V320.6H383.1" stroke="#111" stroke-width="1.2" fill="none"/>
<path d="M297.5 320.2H300.5" stroke="#111" stroke-width="1" fill="none"/>
<text x="296.1" y="319.7" font-size="6.2" text-anchor="end" dominant-baseline="central" fill="#222" stroke="#222" stroke-width="0.08">0</text>
<path d="M297.5 309.26H300.5" stroke="#111" stroke-width="1" fill="none"/>
<text x="296.1" y="308.76" font-size="6.2" text-anchor="end" dominant-baseline="central" fill="#222" stroke="#222" stroke-width="0.08">20</text>
<path d="M297.5 298.32H300.5" stroke="#111" stroke-width="1" fill="none"/>
<text x="296.1" y="297.82" font-size="6.2" text-anchor="end" dominant-baseline="central" fill="#222" stroke="#222" stroke-width="0.08">40</text>
<path d="M297.5 287.38H300.5" stroke="#111" stroke-width="1" fill="none"/>
<text x="296.1" y="286.88" font-size="6.2" text-anchor="end" dominant-baseline="central" fill="#222" stroke="#222" stroke-width="0.08">60</text>
<path d="M297.5 276.44H300.5" stroke="#111" stroke-width="1" fill="none"/>
<text x="296.1" y="275.94" font-size="6.2" text-anchor="end" dominant-baseline="central" fill="#222" stroke="#222" stroke-width="0.08">80</text>
<path d="M297.5 265.5H300.5" stroke="#111" stroke-width="1" fill="none"/>
<text x="296.1" y="265" font-size="6.2" text-anchor="end" dominant-baseline="central" fill="#222" stroke="#222" stroke-width="0.08">100</text>
<path d="M306.5 320.6V323.7" stroke="#111" stroke-width="1.1" fill="none"/>
<path d="M318.5 320.6V323.7" stroke="#111" stroke-width="1.1" fill="none"/>
<path d="M330.5 320.6V323.7" stroke="#111" stroke-width="1.1" fill="none"/>
<path d="M341.5 320.6V323.7" stroke="#111" stroke-width="1.1" fill="none"/>
<path d="M353.5 320.6V323.7" stroke="#111" stroke-width="1.1" fill="none"/>
<path d="M365.5 320.6V323.7" stroke="#111" stroke-width="1.1" fill="none"/>
<path d="M377.5 320.6V323.7" stroke="#111" stroke-width="1.1" fill="none"/>
<text transform="translate(282.5 291.9) rotate(-90)" font-size="9" text-anchor="middle" textLength="41.5" lengthAdjust="spacingAndGlyphs" fill="#222" stroke="#222" stroke-width="0.15">% cell death</text>
<text x="341.45" y="260.4" font-size="9.8" font-weight="bold" text-anchor="middle" textLength="90.5" lengthAdjust="spacingAndGlyphs" fill="#111" stroke="#111" stroke-width="0.2">MCL Primary Tumor-3</text>
<text x="300.5" y="328.4" font-size="6.1" text-anchor="end" dominant-baseline="central" textLength="13.3" lengthAdjust="spacingAndGlyphs" fill="#222" stroke="#222" stroke-width="0.15">IL-21</text>
<path d="M304.1 328.2H307.7" stroke="#333" stroke-width="0.8" fill="none"/>
<path d="M315.95 328.2H319.55" stroke="#333" stroke-width="0.8" fill="none"/>
<path d="M327.8 328.2H331.4" stroke="#333" stroke-width="0.8" fill="none"/>
<path d="M340.05 328.2H342.85M341.45 326.8V329.6" stroke="#1a1a1a" stroke-width="0.9" fill="none"/>
<path d="M351.9 328.2H354.7M353.3 326.8V329.6" stroke="#1a1a1a" stroke-width="0.9" fill="none"/>
<path d="M363.75 328.2H366.55M365.15 326.8V329.6" stroke="#1a1a1a" stroke-width="0.9" fill="none"/>
<path d="M375.2 328.2H378.8" stroke="#333" stroke-width="0.8" fill="none"/>
<text x="300.5" y="336.8" font-size="6.1" text-anchor="end" dominant-baseline="central" textLength="26.2" lengthAdjust="spacingAndGlyphs" fill="#222" stroke="#222" stroke-width="0.15">Rituximab</text>
<path d="M304.1 336.6H307.7" stroke="#333" stroke-width="0.8" fill="none"/>
<path d="M316.35 336.6H319.15M317.75 335.2V338" stroke="#1a1a1a" stroke-width="0.9" fill="none"/>
<path d="M327.8 336.6H331.4" stroke="#333" stroke-width="0.8" fill="none"/>
<path d="M339.65 336.6H343.25" stroke="#333" stroke-width="0.8" fill="none"/>
<path d="M351.9 336.6H354.7M353.3 335.2V338" stroke="#1a1a1a" stroke-width="0.9" fill="none"/>
<path d="M363.35 336.6H366.95" stroke="#333" stroke-width="0.8" fill="none"/>
<path d="M375.2 336.6H378.8" stroke="#333" stroke-width="0.8" fill="none"/>
<text x="300.5" y="345.4" font-size="6.1" text-anchor="end" dominant-baseline="central" textLength="33.3" lengthAdjust="spacingAndGlyphs" fill="#222" stroke="#222" stroke-width="0.15">αCD20-IgG1</text>
<path d="M304.1 345.2H307.7" stroke="#333" stroke-width="0.8" fill="none"/>
<path d="M315.95 345.2H319.55" stroke="#333" stroke-width="0.8" fill="none"/>
<path d="M328.2 345.2H331M329.6 343.8V346.6" stroke="#1a1a1a" stroke-width="0.9" fill="none"/>
<path d="M339.65 345.2H343.25" stroke="#333" stroke-width="0.8" fill="none"/>
<path d="M351.5 345.2H355.1" stroke="#333" stroke-width="0.8" fill="none"/>
<path d="M363.75 345.2H366.55M365.15 343.8V346.6" stroke="#1a1a1a" stroke-width="0.9" fill="none"/>
<path d="M375.2 345.2H378.8" stroke="#333" stroke-width="0.8" fill="none"/>
<text x="300.5" y="354" font-size="6.1" text-anchor="end" dominant-baseline="central" textLength="34" lengthAdjust="spacingAndGlyphs" fill="#222" stroke="#222" stroke-width="0.15">αCD20-IL-21</text>
<path d="M304.1 353.8H307.7" stroke="#333" stroke-width="0.8" fill="none"/>
<path d="M315.95 353.8H319.55" stroke="#333" stroke-width="0.8" fill="none"/>
<path d="M327.8 353.8H331.4" stroke="#333" stroke-width="0.8" fill="none"/>
<path d="M339.65 353.8H343.25" stroke="#333" stroke-width="0.8" fill="none"/>
<path d="M351.5 353.8H355.1" stroke="#333" stroke-width="0.8" fill="none"/>
<path d="M363.35 353.8H366.95" stroke="#333" stroke-width="0.8" fill="none"/>
<path d="M375.6 353.8H378.4M377 352.4V355.2" stroke="#1a1a1a" stroke-width="0.9" fill="none"/>
<rect x="428.4" y="315.19" width="7.2" height="5.31" fill="#50226f" stroke="#3d1757" stroke-width="0.6"/>
<rect x="440.25" y="310.44" width="7.2" height="10.06" fill="#c2c2c6" stroke="#adadb2" stroke-width="0.6"/>
<rect x="452.1" y="304.25" width="7.2" height="16.25" fill="#e0920f" stroke="#cc8005" stroke-width="0.6"/>
<rect x="463.95" y="313.55" width="7.2" height="6.95" fill="#2b4987" stroke="#203a70" stroke-width="0.6"/>
<rect x="475.8" y="307.37" width="7.2" height="13.13" fill="#c80a7e" stroke="#a50466" stroke-width="0.6"/>
<rect x="487.65" y="303.27" width="7.2" height="17.23" fill="#68aa43" stroke="#559133" stroke-width="0.6"/>
<rect x="499.5" y="297.69" width="7.2" height="22.81" fill="#b0052c" stroke="#8c0322" stroke-width="0.6"/>
<path d="M426.3 263.5V320.6H509.2" stroke="#111" stroke-width="1.2" fill="none"/>
<path d="M423.3 320.2H426.3" stroke="#111" stroke-width="1" fill="none"/>
<text x="421.9" y="319.7" font-size="6.2" text-anchor="end" dominant-baseline="central" fill="#222" stroke="#222" stroke-width="0.08">0</text>
<path d="M423.3 309.26H426.3" stroke="#111" stroke-width="1" fill="none"/>
<text x="421.9" y="308.76" font-size="6.2" text-anchor="end" dominant-baseline="central" fill="#222" stroke="#222" stroke-width="0.08">20</text>
<path d="M423.3 298.32H426.3" stroke="#111" stroke-width="1" fill="none"/>
<text x="421.9" y="297.82" font-size="6.2" text-anchor="end" dominant-baseline="central" fill="#222" stroke="#222" stroke-width="0.08">40</text>
<path d="M423.3 287.38H426.3" stroke="#111" stroke-width="1" fill="none"/>
<text x="421.9" y="286.88" font-size="6.2" text-anchor="end" dominant-baseline="central" fill="#222" stroke="#222" stroke-width="0.08">60</text>
<path d="M423.3 276.44H426.3" stroke="#111" stroke-width="1" fill="none"/>
<text x="421.9" y="275.94" font-size="6.2" text-anchor="end" dominant-baseline="central" fill="#222" stroke="#222" stroke-width="0.08">80</text>
<path d="M423.3 265.5H426.3" stroke="#111" stroke-width="1" fill="none"/>
<text x="421.9" y="265" font-size="6.2" text-anchor="end" dominant-baseline="central" fill="#222" stroke="#222" stroke-width="0.08">100</text>
<path d="M432.5 320.6V323.7" stroke="#111" stroke-width="1.1" fill="none"/>
<path d="M444.5 320.6V323.7" stroke="#111" stroke-width="1.1" fill="none"/>
<path d="M456.5 320.6V323.7" stroke="#111" stroke-width="1.1" fill="none"/>
<path d="M468.5 320.6V323.7" stroke="#111" stroke-width="1.1" fill="none"/>
<path d="M479.5 320.6V323.7" stroke="#111" stroke-width="1.1" fill="none"/>
<path d="M491.5 320.6V323.7" stroke="#111" stroke-width="1.1" fill="none"/>
<path d="M503.5 320.6V323.7" stroke="#111" stroke-width="1.1" fill="none"/>
<text transform="translate(408.3 291.9) rotate(-90)" font-size="9" text-anchor="middle" textLength="41.5" lengthAdjust="spacingAndGlyphs" fill="#222" stroke="#222" stroke-width="0.15">% cell death</text>
<text x="467.55" y="260.4" font-size="9.8" font-weight="bold" text-anchor="middle" textLength="74" lengthAdjust="spacingAndGlyphs" fill="#111" stroke="#111" stroke-width="0.2">FL Primary Tumor</text>
<text x="426.3" y="328.4" font-size="6.1" text-anchor="end" dominant-baseline="central" textLength="13.3" lengthAdjust="spacingAndGlyphs" fill="#222" stroke="#222" stroke-width="0.15">IL-21</text>
<path d="M430.2 328.2H433.8" stroke="#333" stroke-width="0.8" fill="none"/>
<path d="M442.05 328.2H445.65" stroke="#333" stroke-width="0.8" fill="none"/>
<path d="M453.9 328.2H457.5" stroke="#333" stroke-width="0.8" fill="none"/>
<path d="M466.15 328.2H468.95M467.55 326.8V329.6" stroke="#1a1a1a" stroke-width="0.9" fill="none"/>
<path d="M478 328.2H480.8M479.4 326.8V329.6" stroke="#1a1a1a" stroke-width="0.9" fill="none"/>
<path d="M489.85 328.2H492.65M491.25 326.8V329.6" stroke="#1a1a1a" stroke-width="0.9" fill="none"/>
<path d="M501.3 328.2H504.9" stroke="#333" stroke-width="0.8" fill="none"/>
<text x="426.3" y="336.8" font-size="6.1" text-anchor="end" dominant-baseline="central" textLength="26.2" lengthAdjust="spacingAndGlyphs" fill="#222" stroke="#222" stroke-width="0.15">Rituximab</text>
<path d="M430.2 336.6H433.8" stroke="#333" stroke-width="0.8" fill="none"/>
<path d="M442.45 336.6H445.25M443.85 335.2V338" stroke="#1a1a1a" stroke-width="0.9" fill="none"/>
<path d="M453.9 336.6H457.5" stroke="#333" stroke-width="0.8" fill="none"/>
<path d="M465.75 336.6H469.35" stroke="#333" stroke-width="0.8" fill="none"/>
<path d="M478 336.6H480.8M479.4 335.2V338" stroke="#1a1a1a" stroke-width="0.9" fill="none"/>
<path d="M489.45 336.6H493.05" stroke="#333" stroke-width="0.8" fill="none"/>
<path d="M501.3 336.6H504.9" stroke="#333" stroke-width="0.8" fill="none"/>
<text x="426.3" y="345.4" font-size="6.1" text-anchor="end" dominant-baseline="central" textLength="33.3" lengthAdjust="spacingAndGlyphs" fill="#222" stroke="#222" stroke-width="0.15">αCD20-IgG1</text>
<path d="M430.2 345.2H433.8" stroke="#333" stroke-width="0.8" fill="none"/>
<path d="M442.05 345.2H445.65" stroke="#333" stroke-width="0.8" fill="none"/>
<path d="M454.3 345.2H457.1M455.7 343.8V346.6" stroke="#1a1a1a" stroke-width="0.9" fill="none"/>
<path d="M465.75 345.2H469.35" stroke="#333" stroke-width="0.8" fill="none"/>
<path d="M477.6 345.2H481.2" stroke="#333" stroke-width="0.8" fill="none"/>
<path d="M489.85 345.2H492.65M491.25 343.8V346.6" stroke="#1a1a1a" stroke-width="0.9" fill="none"/>
<path d="M501.3 345.2H504.9" stroke="#333" stroke-width="0.8" fill="none"/>
<text x="426.3" y="354" font-size="6.1" text-anchor="end" dominant-baseline="central" textLength="34" lengthAdjust="spacingAndGlyphs" fill="#222" stroke="#222" stroke-width="0.15">αCD20-IL-21</text>
<path d="M430.2 353.8H433.8" stroke="#333" stroke-width="0.8" fill="none"/>
<path d="M442.05 353.8H445.65" stroke="#333" stroke-width="0.8" fill="none"/>
<path d="M453.9 353.8H457.5" stroke="#333" stroke-width="0.8" fill="none"/>
<path d="M465.75 353.8H469.35" stroke="#333" stroke-width="0.8" fill="none"/>
<path d="M477.6 353.8H481.2" stroke="#333" stroke-width="0.8" fill="none"/>
<path d="M489.45 353.8H493.05" stroke="#333" stroke-width="0.8" fill="none"/>
<path d="M501.7 353.8H504.5M503.1 352.4V355.2" stroke="#1a1a1a" stroke-width="0.9" fill="none"/>
<rect x="0" y="0" width="520" height="1.4" fill="#000"/><rect x="0" y="0" width="1.45" height="364" fill="#000"/><rect x="518.5" y="0" width="1.5" height="364" fill="#000"/><rect x="0" y="362.5" width="520" height="1.5" fill="#000"/>
</svg>
</body></html>
